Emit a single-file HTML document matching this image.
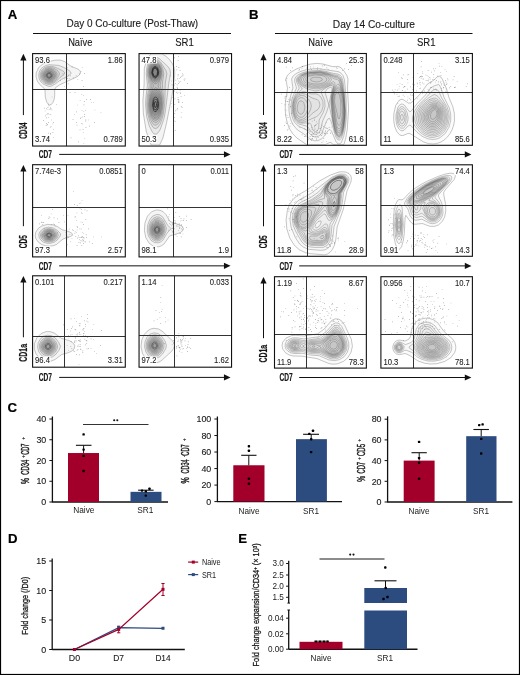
<!DOCTYPE html>
<html><head><meta charset="utf-8"><style>
html,body{margin:0;padding:0;background:#fff;width:520px;height:675px;overflow:hidden;}
svg{display:block;will-change:transform;font-family:"Liberation Sans", sans-serif;}
</style></head><body>
<svg width="520" height="675" viewBox="0 0 520 675" font-family="'Liberation Sans', sans-serif">
<rect x="0" y="0" width="520" height="675" fill="#fff"/>
<text x="7.7" y="18.7" font-size="13.2" font-weight="bold" fill="#000" stroke="#000" stroke-width="0.2">A</text>
<text x="248.9" y="18.9" font-size="13.2" font-weight="bold" fill="#000" stroke="#000" stroke-width="0.2">B</text>
<text x="132.3" y="27.4" font-size="10" text-anchor="middle" textLength="131.7" lengthAdjust="spacingAndGlyphs" fill="#1a1a1a" stroke="#1a1a1a" stroke-width="0.12">Day 0 Co-culture (Post-Thaw)</text>
<line x1="33" y1="33.5" x2="231" y2="33.5" stroke="#111" stroke-width="1.0"/>
<text x="80.3" y="45.7" font-size="10" text-anchor="middle" textLength="24.3" lengthAdjust="spacingAndGlyphs" fill="#1a1a1a" stroke="#1a1a1a" stroke-width="0.12">Na&#239;ve</text>
<text x="184.5" y="45.9" font-size="10" text-anchor="middle" textLength="18.5" lengthAdjust="spacingAndGlyphs" fill="#1a1a1a" stroke="#1a1a1a" stroke-width="0.12">SR1</text>
<text x="373.9" y="28.0" font-size="10" text-anchor="middle" textLength="82.2" lengthAdjust="spacingAndGlyphs" fill="#1a1a1a" stroke="#1a1a1a" stroke-width="0.12">Day 14 Co-culture</text>
<line x1="275" y1="33.5" x2="472.5" y2="33.5" stroke="#111" stroke-width="1.0"/>
<text x="320.5" y="45.7" font-size="10" text-anchor="middle" textLength="24.3" lengthAdjust="spacingAndGlyphs" fill="#1a1a1a" stroke="#1a1a1a" stroke-width="0.12">Na&#239;ve</text>
<text x="426.2" y="45.9" font-size="10" text-anchor="middle" textLength="18.5" lengthAdjust="spacingAndGlyphs" fill="#1a1a1a" stroke="#1a1a1a" stroke-width="0.12">SR1</text>
<clipPath id="c1"><rect x="33.2" y="54.2" width="91.49999999999999" height="91.25000000000001"/></clipPath><g clip-path="url(#c1)"><g fill="#000" fill-opacity="0.04" stroke="#555" stroke-width="0.4" stroke-opacity="0.85"><path d="M51.1 104.7l-1.5 0.3l-1 -0.4l-1.9 -2.5l-1.4 -5l-0.4 -8l-5.3 -4.7l-2.3 -3.3l-1.3 -4.5l0.3 -4l2.3 -5l4.5 -3.8l3.5 -1.5l8 -2.1l6 -0.1l4 1.5l6.2 4.5l7.8 3.3l1.7 1.7l0.2 2l-1.3 2l-2.6 1.9l-16.5 7.6l-4.5 3l-0.9 2l-0 6l-0.6 4l-1.2 3l-1.8 2.1z"/><path d="M51.1 86.2l-2.5 0.2l-4.5 -1.9l-3 -2.4l-1.8 -3l-0.6 -3.5l0.5 -3.5l1.6 -3l2.3 -2.2l3 -1.5l3 -0.7l9.5 0.7l5 1.9l5.6 3.3l1.6 1.5l0.1 1.5l-1.8 2l-8 3.9l-5.5 4.2l-4.5 2.5z"/><path d="M51.6 84.2l-3.5 0.3l-3.5 -1.3l-2.9 -2.6l-1.4 -3l-0.2 -3.5l1.4 -3.5l2.6 -2.7l3.5 -1.5l4 -0.1l4 1.1l6.8 3.2l1.9 1.5l0.4 1l-0.7 1.5l-3.9 2.8l-4.5 4.5l-4 2.3z"/><path d="M51.1 83.2l-3 0.2l-3 -1.1l-2.5 -2.2l-1.4 -3l-0 -3l1.1 -3l2.3 -2.3l3 -1.3l3 -0.2l3.5 1l3.5 2.3l1.8 2.5l-0.4 2.5l-2.6 4l-2.3 2.1l-3 1.5z"/><path d="M51.1 82.2l-3 0.2l-2.5 -0.9l-2.2 -1.9l-1.2 -2.5l-0.1 -3l1.1 -2.5l1.9 -2l2.5 -1.1l3 -0.1l3 1l2.2 1.7l1.4 2.5l-0.2 2.5l-1.2 2.5l-2.2 2.3l-2.5 1.3z"/><path d="M49.6 81.6l-2.5 -0.3l-2.1 -1.2l-1.6 -2l-0.6 -2.5l0.5 -2.5l1.3 -2l2 -1.4l2.5 -0.6l2.5 0.4l2.1 1.1l1.8 2l0.6 2l-0.6 2.5l-1.4 2.2l-2 1.6l-2.5 0.7z"/><path d="M50.6 80.7l-2 0.2l-2 -0.6l-1.6 -1.2l-1.2 -2l-0.2 -2.5l0.8 -2l1.3 -1.5l1.9 -1l2.5 -0.2l2 0.7l1.9 1.5l0.9 1.5l0.2 2l-0.7 2l-1.7 2l-2.1 1.1z"/><path d="M49.6 80.2l-2 -0.2l-1.6 -0.9l-1.2 -1.5l-0.5 -2l0.3 -2l1 -1.5l1.5 -1l2 -0.5l3.5 1.2l1.1 1.3l0.6 2l-0.5 2l-1 1.5l-3.2 1.6z"/><path d="M50.6 79.3l-3 0l-2.3 -2.2l-0.2 -3l1 -1.5l1.5 -1l3.5 0.1l1.4 0.9l0.8 1.5l-0.3 3l-2.4 2.2z"/><path d="M50.1 78.7l-2.5 -0.2l-1.7 -1.9l0 -2.5l2.2 -1.9l3 0.3l1.5 1.9l-0.4 2.7l-2.1 1.6z"/><path d="M49.1 78.1l-2 -0.8l-0.8 -1.7l0.7 -2l2.1 -1l2 0.7l0.9 1.8l-0.7 2l-2.2 1z" stroke="#333" stroke-width="0.6"/><path d="M49.6 77.2l-1.3 -0.1l-1 -1l0.1 -1.5l1.2 -1l1.5 0.1l1 1.4l-0.5 1.5l-1 0.6z" stroke="#333" stroke-width="0.6"/></g><path fill="#888" d="M94.2 122.1h.65v.65h-.65zM72.7 119.0h.65v.65h-.65zM88.4 119.7h.65v.65h-.65zM81.7 80.0h.65v.65h-.65zM81.5 93.9h.65v.65h-.65zM79.7 129.6h.65v.65h-.65zM100.6 112.4h.65v.65h-.65zM82.1 116.7h.65v.65h-.65zM85.6 127.3h.65v.65h-.65zM84.5 137.9h.65v.65h-.65zM82.4 123.7h.65v.65h-.65zM80.7 117.4h.65v.65h-.65zM81.6 110.4h.65v.65h-.65zM82.7 129.1h.65v.65h-.65zM70.7 137.6h.65v.65h-.65zM74.7 92.0h.65v.65h-.65zM83.0 86.1h.65v.65h-.65zM83.6 143.4h.65v.65h-.65zM93.0 102.2h.65v.65h-.65zM83.6 104.5h.65v.65h-.65zM78.4 141.6h.65v.65h-.65zM79.8 99.9h.65v.65h-.65zM84.1 114.3h.65v.65h-.65zM76.9 104.7h.65v.65h-.65zM91.4 101.9h.65v.65h-.65zM85.5 119.5h.65v.65h-.65zM86.3 99.0h.65v.65h-.65zM90.0 99.3h.65v.65h-.65zM85.5 120.8h.65v.65h-.65zM89.3 125.8h.65v.65h-.65zM84.1 101.3h.65v.65h-.65zM80.2 118.1h.65v.65h-.65zM74.3 113.9h.65v.65h-.65zM83.0 94.9h.65v.65h-.65zM76.7 124.8h.65v.65h-.65zM83.5 110.9h.65v.65h-.65zM82.9 132.4h.65v.65h-.65zM85.0 109.9h.65v.65h-.65zM84.1 116.3h.65v.65h-.65zM94.6 109.7h.65v.65h-.65zM76.2 111.5h.65v.65h-.65zM76.4 122.1h.65v.65h-.65zM81.5 123.0h.65v.65h-.65zM49.8 108.8h.65v.65h-.65zM45.1 115.6h.65v.65h-.65zM53.0 122.3h.65v.65h-.65zM51.3 119.7h.65v.65h-.65zM46.9 137.8h.65v.65h-.65zM44.8 110.7h.65v.65h-.65zM46.4 113.9h.65v.65h-.65zM48.6 105.6h.65v.65h-.65zM44.1 107.8h.65v.65h-.65zM50.2 107.5h.65v.65h-.65zM47.3 113.6h.65v.65h-.65zM50.2 134.2h.65v.65h-.65zM50.3 133.0h.65v.65h-.65zM52.5 123.7h.65v.65h-.65zM48.7 114.4h.65v.65h-.65zM43.0 120.0h.65v.65h-.65zM51.7 96.7h.65v.65h-.65zM56.2 103.9h.65v.65h-.65zM47.9 132.8h.65v.65h-.65zM50.7 126.1h.65v.65h-.65zM47.6 107.1h.65v.65h-.65zM46.1 123.0h.65v.65h-.65zM46.1 107.9h.65v.65h-.65zM52.6 132.3h.65v.65h-.65zM47.9 103.8h.65v.65h-.65zM47.2 124.3h.65v.65h-.65zM46.7 109.4h.65v.65h-.65zM51.7 109.7h.65v.65h-.65zM48.3 122.1h.65v.65h-.65zM46.8 124.5h.65v.65h-.65zM48.1 112.9h.65v.65h-.65zM46.1 117.6h.65v.65h-.65zM48.0 117.2h.65v.65h-.65zM49.9 127.4h.65v.65h-.65zM45.8 125.0h.65v.65h-.65zM50.8 108.6h.65v.65h-.65zM48.7 108.9h.65v.65h-.65zM53.0 129.2h.65v.65h-.65zM53.1 136.9h.65v.65h-.65zM50.5 114.3h.65v.65h-.65zM66.9 67.5h.65v.65h-.65zM60.1 80.3h.65v.65h-.65zM80.7 71.2h.65v.65h-.65zM62.7 73.5h.65v.65h-.65zM67.8 83.5h.65v.65h-.65zM79.4 73.5h.65v.65h-.65zM81.9 67.2h.65v.65h-.65zM72.9 77.6h.65v.65h-.65zM64.0 86.4h.65v.65h-.65zM75.8 75.6h.65v.65h-.65zM67.4 78.0h.65v.65h-.65zM77.5 79.2h.65v.65h-.65zM64.4 78.7h.65v.65h-.65zM69.7 92.0h.65v.65h-.65zM68.9 78.2h.65v.65h-.65zM84.2 73.3h.65v.65h-.65zM71.8 66.8h.65v.65h-.65zM68.3 74.8h.65v.65h-.65zM64.8 77.7h.65v.65h-.65zM70.0 75.6h.65v.65h-.65z"/></g>
<line x1="66.5" y1="53.6" x2="66.5" y2="146.05" stroke="#333" stroke-width="1.0"/>
<line x1="32.6" y1="89.5" x2="125.3" y2="89.5" stroke="#333" stroke-width="1.0"/>
<rect x="32.6" y="53.6" width="92.69999999999999" height="92.45000000000002" fill="none" stroke="#111" stroke-width="1.1"/>
<rect x="34.3" y="55.9" width="16.3" height="7.6" fill="#fff"/>
<text x="35.1" y="62.5" font-size="8.4" textLength="14.89" lengthAdjust="spacingAndGlyphs" fill="#1a1a1a" stroke="#1a1a1a" stroke-width="0.08">93.6</text>
<rect x="107.0" y="55.9" width="16.3" height="7.6" fill="#fff"/>
<text x="122.7" y="62.5" font-size="8.4" text-anchor="end" textLength="14.89" lengthAdjust="spacingAndGlyphs" fill="#1a1a1a" stroke="#1a1a1a" stroke-width="0.08">1.86</text>
<rect x="34.3" y="135.4" width="16.3" height="7.6" fill="#fff"/>
<text x="35.1" y="141.95000000000002" font-size="8.4" textLength="14.89" lengthAdjust="spacingAndGlyphs" fill="#1a1a1a" stroke="#1a1a1a" stroke-width="0.08">3.74</text>
<rect x="102.8" y="135.4" width="20.5" height="7.6" fill="#fff"/>
<text x="122.7" y="141.95000000000002" font-size="8.4" text-anchor="end" textLength="19.14" lengthAdjust="spacingAndGlyphs" fill="#1a1a1a" stroke="#1a1a1a" stroke-width="0.08">0.789</text>
<clipPath id="c2"><rect x="139.65" y="54.2" width="91.3" height="91.25000000000001"/></clipPath><g clip-path="url(#c2)"><g fill="#000" fill-opacity="0.045" stroke="#555" stroke-width="0.4" stroke-opacity="0.85"><path d="M159.6 145.1l-8.3 -0l-1.2 -2l-3.9 -12l-2.9 -18l-0.4 -12l1.2 -17l0.2 -16l2.6 -8.5l2.2 -3.6l2.5 -2.4l9.8 -0l4.7 2.8l3.5 3.3l2.8 3.9l1.6 3.5l0.7 4l-0 4l-2.5 19.5l-5.9 29.5l-3.4 14l-3.3 7z"/><path d="M156.1 134.2l-2 -0.3l-1.5 -1.4l-3.3 -6.4l-2.6 -9.5l-1.1 -11.5l0.3 -7.5l1.5 -12.5l-1.1 -11.5l0.5 -6l1.2 -4l2.1 -3.5l2.5 -2.2l2.5 -0.7l2 0.3l2.5 1.3l8.5 7.9l1.8 2.9l0.6 3.5l-1.7 10l-3.3 27.5l-1.5 8l-3.9 11.2l-2 3l-2 1.4z"/><path d="M155.6 128.6l-1.5 -0.4l-1.5 -1.3l-3 -5.8l-2.1 -8l-0.7 -8.5l0.4 -7.5l1.9 -11.5l-1.7 -11l0.3 -6.5l1.1 -3.5l1.8 -3l2 -1.8l2.5 -0.7l3 0.8l2.5 2.3l5.4 8.4l0.9 3l-1.6 9.5l-0.5 20l-1.3 11l-1.7 6l-1.9 4.5l-2.3 3.1l-2 0.9z"/><path d="M155.6 125.2l-1.5 -0.4l-1.5 -1.3l-2.4 -4.4l-1.9 -7l-0.6 -7.5l0.6 -8l2.2 -11l-2.2 -10l0 -6.5l1 -3.5l1.3 -2.5l2 -1.9l2.5 -0.8l3 1l2.6 2.7l2.1 4.5l1 5l-1.5 10.5l1.4 15l-0.7 12l-1.3 5.5l-1.8 4.5l-2.3 3.2l-2 0.9z"/><path d="M155.6 122.6l-2.5 -1.2l-2.5 -4.3l-1.6 -6l-0.5 -6.5l0.7 -8l2.7 -11l-2.9 -10l-0.1 -6l0.9 -3.5l1.3 -2.3l2 -1.8l2 -0.6l2.5 0.8l2 1.9l1.6 3l1 3.5l0.1 5l-2.2 9.5l2.1 9.5l0.6 7.5l-0.5 7.5l-1.5 6.5l-2.2 4.5l-1.5 1.5l-1.5 0.5z"/><path d="M155.6 120.7l-2.5 -1.3l-2 -3.4l-1.5 -5.4l-0.5 -6l0.9 -8.5l3.5 -10.5l-3.6 -8.5l-0.7 -3.5l0.1 -3.5l0.7 -3l1.3 -2.5l1.8 -1.7l2 -0.6l2 0.5l2 1.8l2.3 5.5l-0.1 6l-3.2 9.5l3.1 9l0.9 8l-0.4 6.5l-1.4 6l-2.2 4.1l-2.5 1.5z"/><path d="M156.6 83.7l-1.5 0.3l-2.5 -2.4l-2 -3.7l-1 -4.3l0.2 -4l1.1 -3.5l1.7 -2.1l2.5 -1l2 0.5l2 2l1.3 2.6l0.7 3.5l-0.2 3.5l-0.8 3l-1.5 3.2l-2 2.4zM156.1 119.2l-2.5 -0.8l-1.9 -2.8l-1.4 -4.5l-0.7 -6l0.4 -5.5l1.2 -5.5l2.4 -4.8l2 -1.8l2 1.2l2.2 3.9l1.2 4.5l0.6 5.5l-0.4 6l-1.1 5l-1.9 4l-2.1 1.6z"/><path d="M155.6 82.2l-2 -0.8l-1.8 -2.3l-1.3 -3l-0.5 -3.5l0.3 -3.5l1.2 -3l1.6 -1.7l2 -0.7l2 0.6l1.8 1.8l1.1 2.5l0.6 3.5l-0.3 3.5l-1.1 3l-1.6 2.5l-2 1.1zM156.1 117.8l-2 -0.4l-2 -2.7l-1.3 -4.1l-0.6 -5.5l0.2 -5l1.2 -5l2 -3.7l2 -1.3l2 0.9l1.8 3.1l1.1 4l0.5 5l-0.3 5l-0.9 4.5l-1.7 3.6l-2 1.6z"/><path d="M156.1 80.7l-2 -0.2l-1.5 -1.4l-1.4 -2.5l-0.7 -3.5l0.2 -3.5l0.9 -2.7l1.5 -1.8l2 -0.8l2 0.7l1.4 1.6l1.5 5l-0.9 5.6l-1.5 2.4l-1.5 1.1zM156.1 116.2l-2 -0.4l-1.6 -2.2l-1.3 -4l-0.5 -4.5l0.4 -5l1 -4.1l1.5 -2.8l2 -1.3l1.6 0.7l1.7 2.5l1 3.5l0.5 4.5l-1 8.5l-1.4 3l-1.9 1.6z"/><path d="M156.1 79.7l-2 -0.2l-1.5 -1.4l-1.7 -5l0.1 -3l0.8 -2.5l1.3 -1.7l2 -0.9l1.5 0.5l1.5 1.5l1.4 4.6l-0.7 5l-1.2 2l-1.5 1.1zM156.1 114.8l-1.5 -0.1l-1.7 -2.1l-1.2 -3.5l-0.4 -4l0.3 -4.5l0.9 -3.5l1.6 -2.7l1.5 -0.8l1.5 0.7l1.5 2.3l1.2 7l-1 7.5l-1.2 2.4l-1.5 1.3z"/><path d="M156.1 78.7l-1.5 0.1l-1.5 -1.1l-1.2 -2.1l-0.6 -2.5l0.8 -5l1.5 -1.9l1.5 -0.5l1.5 0.5l1.3 1.4l1.2 4l-0.7 4.5l-2.3 2.6zM156.1 113.3l-1.5 -0.2l-1.5 -1.9l-1.2 -6.1l1.1 -7l1.1 -2l1.5 -0.8l1.5 0.8l1 1.6l1.1 5.9l-0.7 6l-0.9 2.2l-1.5 1.5z"/><path d="M156.1 77.8l-1.5 0.1l-1.2 -0.8l-1.6 -4l0.7 -4.5l1.1 -1.5l1.5 -0.6l1.5 0.5l0.9 1.1l1.1 3.5l-0.5 3.6l-2 2.6zM156.1 111.7l-1.5 -0.2l-1 -1.3l-1.1 -5.1l0.8 -5.5l1.1 -2l1.2 -0.6l1 0.5l1 1.4l1 4.7l-0.6 5l-1.9 3.1z" stroke="#222" stroke-width="0.9"/><path d="M155.1 77.1l-2 -1.5l-0.9 -3.5l0.9 -3.5l2 -1.4l2.1 1.4l0.9 3.5l-0.8 3.5l-1.2 1.2l-1 0.3zM156.1 109.8l-1 0.1l-1 -1.1l-0.8 -3.7l0.6 -4.5l1.7 -1.7l1.5 1.5l0.7 3.2l-0.3 3.5l-1.4 2.7z" stroke="#222" stroke-width="0.9"/><path d="M155.6 76.2l-1 -0l-1 -0.9l-0.9 -2.7l0.5 -3l1.9 -1.5l1.7 1l0.8 2.5l-0.5 3l-1.5 1.6zM156.1 107.2l-1 0.2l-0.8 -2.3l0.3 -2.7l1 -1l1.1 2.2l-0.6 3.6z" stroke="#222" stroke-width="0.9"/></g><path fill="#888" d="M177.3 78.6h.65v.65h-.65zM181.5 76.0h.65v.65h-.65zM177.8 74.1h.65v.65h-.65zM174.5 87.9h.65v.65h-.65zM176.0 66.0h.65v.65h-.65zM178.5 102.4h.65v.65h-.65zM175.1 110.5h.65v.65h-.65zM176.1 92.2h.65v.65h-.65zM178.8 101.7h.65v.65h-.65zM173.3 88.0h.65v.65h-.65zM174.9 130.1h.65v.65h-.65zM182.3 89.0h.65v.65h-.65zM182.0 102.0h.65v.65h-.65zM177.8 60.3h.65v.65h-.65zM180.1 93.3h.65v.65h-.65zM174.4 90.8h.65v.65h-.65zM175.5 79.8h.65v.65h-.65zM179.0 81.8h.65v.65h-.65zM176.8 84.5h.65v.65h-.65zM177.3 93.4h.65v.65h-.65zM180.9 106.0h.65v.65h-.65zM174.6 98.5h.65v.65h-.65zM177.2 88.3h.65v.65h-.65zM171.7 84.6h.65v.65h-.65zM181.8 107.1h.65v.65h-.65zM179.6 89.5h.65v.65h-.65zM180.8 116.8h.65v.65h-.65zM174.9 83.1h.65v.65h-.65zM176.5 69.6h.65v.65h-.65zM178.3 101.3h.65v.65h-.65zM183.7 79.2h.65v.65h-.65zM172.1 84.7h.65v.65h-.65zM180.1 81.4h.65v.65h-.65zM176.6 91.7h.65v.65h-.65zM180.7 96.1h.65v.65h-.65zM177.4 99.4h.65v.65h-.65zM170.9 106.7h.65v.65h-.65zM181.5 111.9h.65v.65h-.65zM176.7 109.5h.65v.65h-.65zM178.3 56.0h.65v.65h-.65zM177.0 88.4h.65v.65h-.65zM173.9 84.8h.65v.65h-.65zM183.3 74.7h.65v.65h-.65zM178.5 99.8h.65v.65h-.65zM178.1 67.2h.65v.65h-.65zM178.1 99.3h.65v.65h-.65zM177.7 75.5h.65v.65h-.65zM174.6 88.9h.65v.65h-.65zM173.9 117.1h.65v.65h-.65zM180.0 77.0h.65v.65h-.65zM174.5 113.0h.65v.65h-.65zM175.1 121.4h.65v.65h-.65zM184.3 80.2h.65v.65h-.65zM177.2 108.0h.65v.65h-.65zM178.0 83.1h.65v.65h-.65zM171.5 102.9h.65v.65h-.65zM184.7 78.6h.65v.65h-.65zM178.1 80.7h.65v.65h-.65zM178.7 66.9h.65v.65h-.65zM184.1 95.4h.65v.65h-.65zM174.5 104.3h.65v.65h-.65zM176.8 87.3h.65v.65h-.65zM178.6 92.2h.65v.65h-.65zM179.7 70.0h.65v.65h-.65zM174.0 120.7h.65v.65h-.65zM172.3 96.9h.65v.65h-.65zM187.1 83.0h.65v.65h-.65zM178.2 102.2h.65v.65h-.65zM182.3 73.5h.65v.65h-.65zM180.2 89.6h.65v.65h-.65zM178.8 78.3h.65v.65h-.65zM169.9 75.5h.65v.65h-.65zM181.9 75.5h.65v.65h-.65zM177.7 97.0h.65v.65h-.65zM174.1 57.6h.65v.65h-.65zM171.4 80.7h.65v.65h-.65zM180.3 91.9h.65v.65h-.65z"/></g>
<line x1="173.5" y1="53.6" x2="173.5" y2="146.05" stroke="#333" stroke-width="1.0"/>
<line x1="139.05" y1="89.5" x2="231.55" y2="89.5" stroke="#333" stroke-width="1.0"/>
<rect x="139.05" y="53.6" width="92.5" height="92.45000000000002" fill="none" stroke="#111" stroke-width="1.1"/>
<rect x="140.8" y="55.9" width="16.3" height="7.6" fill="#fff"/>
<text x="141.55" y="62.5" font-size="8.4" textLength="14.89" lengthAdjust="spacingAndGlyphs" fill="#1a1a1a" stroke="#1a1a1a" stroke-width="0.08">47.8</text>
<rect x="209.0" y="55.9" width="20.5" height="7.6" fill="#fff"/>
<text x="228.95000000000002" y="62.5" font-size="8.4" text-anchor="end" textLength="19.14" lengthAdjust="spacingAndGlyphs" fill="#1a1a1a" stroke="#1a1a1a" stroke-width="0.08">0.979</text>
<rect x="140.8" y="135.4" width="16.3" height="7.6" fill="#fff"/>
<text x="141.55" y="141.95000000000002" font-size="8.4" textLength="14.89" lengthAdjust="spacingAndGlyphs" fill="#1a1a1a" stroke="#1a1a1a" stroke-width="0.08">50.3</text>
<rect x="209.0" y="135.4" width="20.5" height="7.6" fill="#fff"/>
<text x="228.95000000000002" y="141.95000000000002" font-size="8.4" text-anchor="end" textLength="19.14" lengthAdjust="spacingAndGlyphs" fill="#1a1a1a" stroke="#1a1a1a" stroke-width="0.08">0.935</text>
<line x1="23.4" y1="58.800000000000004" x2="23.4" y2="115.1" stroke="#111" stroke-width="1.0"/>
<path d="M20.30,60.40 L23.40,53.80 L26.50,60.40 Z" fill="#111"/>
<text transform="translate(27.0,130.6) rotate(-90)" text-anchor="middle" font-size="11" font-weight="bold" textLength="16.4" lengthAdjust="spacingAndGlyphs" fill="#151515" stroke="#151515" stroke-width="0.2">CD34</text>
<text x="38.7" y="158.20000000000002" font-size="11" font-weight="bold" textLength="13.2" lengthAdjust="spacingAndGlyphs" fill="#151515" stroke="#151515" stroke-width="0.2">CD7</text>
<line x1="59.2" y1="154.4" x2="225.55" y2="154.4" stroke="#111" stroke-width="1.0"/>
<path d="M223.95,151.30 L230.55,154.40 L223.95,157.50 Z" fill="#111"/>
<clipPath id="c3"><rect x="33.2" y="165.29999999999998" width="91.49999999999999" height="90.99999999999999"/></clipPath><g clip-path="url(#c3)"><g fill="#000" fill-opacity="0.04" stroke="#555" stroke-width="0.4" stroke-opacity="0.85"><path d="M49.6 246.2l-4 -0.3l-4 -1.4l-3.5 -2.6l-2.2 -3.2l-0.7 -3l0.6 -3.5l2.2 -3.5l3.1 -2.4l6 -1.9l6 0.4l4 1.6l5 3.3l7.5 2.2l2.7 1.8l-0.1 1.5l-1.1 1l-8 2.8l-6.5 5.4l-3 1.2l-4 0.6z"/><path d="M50.6 243.3l-3.5 -0l-3.5 -1.1l-2.7 -2l-1.6 -2.5l-0.5 -3l0.8 -2.5l2 -2.4l3 -1.8l4 -0.8l4.5 0.7l4 2.3l3.4 3.5l-0.1 2l-3.3 4.5l-3 2.1l-3.5 1z"/><path d="M51.6 241.8l-3 0.3l-3 -0.5l-2.5 -1.4l-1.5 -1.5l-1 -2l-0.1 -2.5l0.8 -2l1.8 -1.8l3.5 -1.6l4 -0.2l4 1.4l2.9 2.7l0.8 2.5l-1 2.5l-2.3 2.5l-3.4 1.6z"/><path d="M49.1 241.2l-2.5 -0.3l-2.6 -1.2l-1.8 -2l-0.7 -2l0.5 -2.5l1.6 -2l2 -1.2l3 -0.7l3 0.4l2.5 1.1l2 1.9l0.8 2l-0.6 2.5l-1.7 2l-2.5 1.5l-3 0.5z"/><path d="M51.1 240.2l-4.5 -0.1l-2 -1l-1.4 -1.4l-0.7 -1.5l0.1 -2l2 -2.8l2.5 -1.2l3 -0.1l3 1l1.9 1.6l0.9 2l-0.6 2.5l-1.7 1.8l-2.5 1.2z"/><path d="M50.6 239.7l-3.5 -0.1l-3 -1.9l-0.9 -3l1.9 -2.9l2.5 -1l2.5 -0.1l2.5 0.8l1.9 1.7l0.6 2l-0.7 2l-1.5 1.5l-2.3 1z"/><path d="M50.1 239.2l-3.5 -0.4l-2.3 -2.1l-0.2 -2.5l2 -2.2l2 -0.7l2.5 0.1l2 0.9l1.3 1.4l0.4 1.5l-0.7 2l-1.5 1.3l-2 0.7z"/><path d="M49.6 238.7l-3 -0.5l-1.8 -2l0.3 -2.5l2 -1.6l3.5 -0.1l1.5 0.7l1.3 1.5l0.1 1.5l-0.8 1.5l-3.1 1.5z"/><path d="M50.6 237.9l-2.5 0.2l-1.7 -0.9l-1 -2l0.7 -1.6l3 -1.2l3 1.3l0.6 1l-0.1 1.4l-2 1.8z"/><path d="M50.1 237.3l-2 0l-1.5 -1l-0.4 -1.1l0.8 -1.5l2.6 -0.6l2 1.1l0 2l-1.5 1.1z" stroke="#333" stroke-width="0.6"/><path d="M49.6 236.7l-2.1 -0.5l-0.4 -1l0.5 -1l1.5 -0.5l1.5 0.6l0.3 1.4l-1.3 1z" stroke="#333" stroke-width="0.6"/></g><path fill="#888" d="M73.0 230.4h.65v.65h-.65zM69.5 234.4h.65v.65h-.65zM78.8 237.0h.65v.65h-.65zM83.4 233.4h.65v.65h-.65zM70.2 240.9h.65v.65h-.65zM79.6 228.6h.65v.65h-.65zM76.7 245.1h.65v.65h-.65zM77.1 237.8h.65v.65h-.65zM84.7 241.6h.65v.65h-.65zM76.8 229.7h.65v.65h-.65zM89.1 241.6h.65v.65h-.65zM67.6 235.9h.65v.65h-.65zM83.0 237.3h.65v.65h-.65zM74.8 231.6h.65v.65h-.65zM71.6 238.2h.65v.65h-.65zM72.5 235.4h.65v.65h-.65zM81.6 240.5h.65v.65h-.65zM76.2 232.2h.65v.65h-.65zM81.3 236.8h.65v.65h-.65zM65.6 234.5h.65v.65h-.65zM66.9 244.6h.65v.65h-.65zM85.9 234.6h.65v.65h-.65zM77.2 227.0h.65v.65h-.65zM75.5 236.0h.65v.65h-.65zM91.9 243.3h.65v.65h-.65zM80.6 237.3h.65v.65h-.65zM79.9 240.2h.65v.65h-.65zM65.6 237.2h.65v.65h-.65zM81.1 236.9h.65v.65h-.65zM83.0 224.1h.65v.65h-.65zM80.3 242.6h.65v.65h-.65zM86.4 237.1h.65v.65h-.65zM81.9 232.4h.65v.65h-.65zM65.2 232.4h.65v.65h-.65zM85.0 241.6h.65v.65h-.65zM93.4 236.7h.65v.65h-.65zM82.1 239.2h.65v.65h-.65zM83.0 240.0h.65v.65h-.65zM82.0 236.0h.65v.65h-.65zM82.7 240.9h.65v.65h-.65zM78.6 242.3h.65v.65h-.65zM72.1 229.5h.65v.65h-.65zM83.9 237.7h.65v.65h-.65zM66.2 241.7h.65v.65h-.65zM81.5 245.0h.65v.65h-.65zM68.8 228.8h.65v.65h-.65zM81.0 228.7h.65v.65h-.65zM82.4 237.4h.65v.65h-.65zM83.1 243.0h.65v.65h-.65zM79.3 238.9h.65v.65h-.65zM66.7 235.8h.65v.65h-.65zM67.9 237.0h.65v.65h-.65zM78.3 235.5h.65v.65h-.65zM66.7 238.5h.65v.65h-.65zM74.5 232.9h.65v.65h-.65zM65.8 224.4h.65v.65h-.65zM76.8 226.1h.65v.65h-.65zM83.5 238.7h.65v.65h-.65zM88.1 228.6h.65v.65h-.65zM101.4 236.7h.65v.65h-.65zM76.6 212.7h.65v.65h-.65zM79.7 208.2h.65v.65h-.65zM75.2 216.5h.65v.65h-.65zM82.0 222.4h.65v.65h-.65zM74.5 216.7h.65v.65h-.65zM79.1 206.9h.65v.65h-.65zM78.9 202.9h.65v.65h-.65zM80.5 202.7h.65v.65h-.65zM81.7 213.0h.65v.65h-.65zM80.7 221.7h.65v.65h-.65zM74.0 204.0h.65v.65h-.65zM76.9 205.3h.65v.65h-.65zM81.7 200.4h.65v.65h-.65zM84.6 209.6h.65v.65h-.65zM81.4 212.4h.65v.65h-.65zM76.1 220.2h.65v.65h-.65zM73.0 190.9h.65v.65h-.65zM86.7 210.6h.65v.65h-.65zM85.5 219.0h.65v.65h-.65zM81.3 209.1h.65v.65h-.65zM44.4 228.3h.65v.65h-.65zM48.8 216.5h.65v.65h-.65zM41.3 215.4h.65v.65h-.65zM53.3 223.7h.65v.65h-.65zM48.5 218.1h.65v.65h-.65zM58.6 222.3h.65v.65h-.65zM54.8 226.4h.65v.65h-.65zM43.0 221.9h.65v.65h-.65zM50.8 213.7h.65v.65h-.65zM64.4 221.6h.65v.65h-.65zM39.1 223.5h.65v.65h-.65zM42.5 224.3h.65v.65h-.65zM49.6 217.4h.65v.65h-.65zM67.6 214.9h.65v.65h-.65zM40.9 221.8h.65v.65h-.65zM42.3 222.4h.65v.65h-.65zM54.1 224.0h.65v.65h-.65zM63.2 215.2h.65v.65h-.65zM57.4 218.5h.65v.65h-.65zM43.5 221.9h.65v.65h-.65zM51.0 224.6h.65v.65h-.65zM41.0 222.0h.65v.65h-.65zM52.4 209.3h.65v.65h-.65zM53.7 217.5h.65v.65h-.65zM56.9 232.1h.65v.65h-.65z"/></g>
<line x1="66.5" y1="164.7" x2="66.5" y2="256.9" stroke="#333" stroke-width="1.0"/>
<line x1="32.6" y1="207.5" x2="125.3" y2="207.5" stroke="#333" stroke-width="1.0"/>
<rect x="32.6" y="164.7" width="92.69999999999999" height="92.19999999999999" fill="none" stroke="#111" stroke-width="1.1"/>
<rect x="34.3" y="167.0" width="27.3" height="7.6" fill="#fff"/>
<text x="35.1" y="173.6" font-size="8.4" textLength="25.94" lengthAdjust="spacingAndGlyphs" fill="#1a1a1a" stroke="#1a1a1a" stroke-width="0.08">7.74e-3</text>
<rect x="98.5" y="167.0" width="24.8" height="7.6" fill="#fff"/>
<text x="122.7" y="173.6" font-size="8.4" text-anchor="end" textLength="23.4" lengthAdjust="spacingAndGlyphs" fill="#1a1a1a" stroke="#1a1a1a" stroke-width="0.08">0.0851</text>
<rect x="34.3" y="246.2" width="16.3" height="7.6" fill="#fff"/>
<text x="35.1" y="252.79999999999998" font-size="8.4" textLength="14.89" lengthAdjust="spacingAndGlyphs" fill="#1a1a1a" stroke="#1a1a1a" stroke-width="0.08">97.3</text>
<rect x="107.0" y="246.2" width="16.3" height="7.6" fill="#fff"/>
<text x="122.7" y="252.79999999999998" font-size="8.4" text-anchor="end" textLength="14.89" lengthAdjust="spacingAndGlyphs" fill="#1a1a1a" stroke="#1a1a1a" stroke-width="0.08">2.57</text>
<clipPath id="c4"><rect x="139.65" y="165.29999999999998" width="91.3" height="90.99999999999999"/></clipPath><g clip-path="url(#c4)"><g fill="#000" fill-opacity="0.04" stroke="#555" stroke-width="0.4" stroke-opacity="0.85"><path d="M158.6 246.8l-5 -0.4l-4.5 -3.2l-3.3 -5.5l-1.4 -7l0.5 -7.5l2.5 -7l4.2 -4.5l5 -1.8l3.5 0.4l3 1.4l3 3l4 6.9l10 3.4l2.4 1.7l0.9 2l-0.7 2l-2.6 2.1l-10.5 3.2l-5.5 7.9l-3 2.1l-2.5 0.8z"/><path d="M158.6 242.8l-4 -0.2l-3.5 -2.2l-2.6 -4.2l-1.2 -5l0.4 -6l2 -5.5l2.9 -3.6l4 -1.7l3 0.4l3 2l5 8.3l3.5 3.6l-4 4.4l-4 6.8l-2 1.8l-2.5 1.1z"/><path d="M159.1 240.8l-3.5 0.3l-3 -1.5l-2.5 -3.4l-1.3 -4.5l0.1 -5l1.6 -5l2.6 -3.3l3.5 -1.6l3 0.5l2.5 1.9l2.2 3.5l2.1 5.5l-0.4 3l-2.5 5.5l-1.9 2.5l-2.5 1.6z"/><path d="M157.6 239.8l-3 -0.5l-2.5 -2l-1.7 -3.1l-0.7 -4l0.5 -4.5l1.5 -3.5l2.4 -2.7l3 -1l2.5 0.6l2.3 2.1l2.1 4l0.9 3.5l-0.6 3.5l-1.8 4l-2.4 2.6l-2.5 1z"/><path d="M157.1 238.7l-2.5 -0.6l-2.2 -1.9l-1.4 -3l-0.5 -3.5l0.5 -3.5l1.6 -3.5l2 -2.1l2.5 -0.8l2.5 0.8l2 2l1.7 3.6l0.6 3l-0.7 3.5l-1.6 3.2l-2 2l-2.5 0.8z"/><path d="M157.6 237.8l-2.5 -0.3l-2 -1.6l-1.4 -2.7l-0.5 -3l0.4 -3.5l1.3 -3l1.9 -2l2.3 -0.7l2 0.6l2 1.9l1.4 2.7l0.6 3l-0.5 3l-1.4 3l-1.6 1.7l-2 0.9z"/><path d="M157.6 236.8l-2 -0.2l-2 -1.4l-1.1 -2l-0.6 -3l0.3 -3l1 -2.5l1.9 -2l2 -0.6l2 0.6l1.5 1.5l1.3 2.5l0.4 2.5l-0.3 2.5l-1.1 2.5l-1.3 1.6l-2 1z"/><path d="M158.1 235.9l-2 0.1l-1.5 -0.8l-1.5 -2l-0.6 -2.5l0.1 -2.5l0.9 -2.5l1.6 -1.9l1.5 -0.7l1.5 0.2l1.5 0.9l1.3 2l0.7 2.5l-0.8 4.5l-1.2 1.7l-1.5 1z"/><path d="M157.1 235.3l-1.5 -0.3l-1.4 -1.3l-1.1 -4l1.2 -4l1.3 -1.2l1.5 -0.5l1.5 0.5l1.2 1.2l1.2 4l-1.3 4l-2.6 1.6z"/><path d="M157.6 234.3l-2.5 -0.7l-1.4 -3.4l0.9 -3.7l1 -1l1.5 -0.5l2.1 1.2l1.2 3l-0.8 3.4l-2 1.7z"/><path d="M157.6 233.3l-2 -0.4l-1.2 -2.7l0.7 -2.9l2 -1.2l1.5 0.7l1 2.4l-0.4 2.5l-1.6 1.6z" stroke="#333" stroke-width="0.6"/><path d="M157.1 232.3l-1.5 -0.9l-0.4 -1.7l0.4 -1.6l1.5 -0.9l1.4 1l0.3 1.5l-0.6 2l-1.1 0.6z" stroke="#333" stroke-width="0.6"/></g><path fill="#888" d="M182.6 233.7h.65v.65h-.65zM172.7 227.9h.65v.65h-.65zM179.5 232.8h.65v.65h-.65zM177.5 224.5h.65v.65h-.65zM167.1 208.5h.65v.65h-.65zM175.6 234.6h.65v.65h-.65zM181.4 228.6h.65v.65h-.65zM186.0 227.1h.65v.65h-.65zM169.4 223.4h.65v.65h-.65zM175.9 225.5h.65v.65h-.65zM172.2 231.3h.65v.65h-.65zM179.1 228.0h.65v.65h-.65zM171.9 224.1h.65v.65h-.65zM181.1 224.8h.65v.65h-.65zM173.3 223.4h.65v.65h-.65zM174.8 223.3h.65v.65h-.65zM172.9 224.3h.65v.65h-.65zM186.2 220.0h.65v.65h-.65zM183.6 218.5h.65v.65h-.65zM178.9 216.0h.65v.65h-.65zM174.2 216.9h.65v.65h-.65zM174.6 220.3h.65v.65h-.65zM180.2 233.2h.65v.65h-.65zM179.5 225.3h.65v.65h-.65zM182.6 228.9h.65v.65h-.65zM163.4 223.9h.65v.65h-.65zM172.6 222.2h.65v.65h-.65zM173.9 228.4h.65v.65h-.65zM180.7 218.0h.65v.65h-.65zM173.5 231.7h.65v.65h-.65zM186.2 215.8h.65v.65h-.65zM168.5 229.8h.65v.65h-.65zM179.9 220.7h.65v.65h-.65zM171.6 229.9h.65v.65h-.65zM180.9 236.6h.65v.65h-.65zM172.6 232.0h.65v.65h-.65zM170.2 224.4h.65v.65h-.65zM175.5 212.0h.65v.65h-.65zM179.5 227.0h.65v.65h-.65zM176.8 225.9h.65v.65h-.65zM176.7 235.9h.65v.65h-.65zM171.6 225.6h.65v.65h-.65zM183.1 220.3h.65v.65h-.65zM181.6 220.4h.65v.65h-.65zM174.0 223.4h.65v.65h-.65zM169.3 214.2h.65v.65h-.65zM181.3 224.5h.65v.65h-.65zM174.9 221.9h.65v.65h-.65zM182.4 226.7h.65v.65h-.65zM163.7 220.7h.65v.65h-.65zM178.2 230.2h.65v.65h-.65zM172.4 227.8h.65v.65h-.65zM190.8 219.1h.65v.65h-.65zM178.7 226.4h.65v.65h-.65zM171.7 228.3h.65v.65h-.65zM175.1 221.7h.65v.65h-.65zM171.9 223.0h.65v.65h-.65zM168.2 219.8h.65v.65h-.65zM178.9 223.5h.65v.65h-.65zM168.5 216.6h.65v.65h-.65z"/></g>
<line x1="173.5" y1="164.7" x2="173.5" y2="256.9" stroke="#333" stroke-width="1.0"/>
<line x1="139.05" y1="207.5" x2="231.55" y2="207.5" stroke="#333" stroke-width="1.0"/>
<rect x="139.05" y="164.7" width="92.5" height="92.19999999999999" fill="none" stroke="#111" stroke-width="1.1"/>
<rect x="140.8" y="167.0" width="5.7" height="7.6" fill="#fff"/>
<text x="141.55" y="173.6" font-size="8.4" textLength="4.25" lengthAdjust="spacingAndGlyphs" fill="#1a1a1a" stroke="#1a1a1a" stroke-width="0.08">0</text>
<rect x="209.6" y="167.0" width="20.0" height="7.6" fill="#fff"/>
<text x="228.95000000000002" y="173.6" font-size="8.4" text-anchor="end" textLength="18.57" lengthAdjust="spacingAndGlyphs" fill="#1a1a1a" stroke="#1a1a1a" stroke-width="0.08">0.011</text>
<rect x="140.8" y="246.2" width="16.3" height="7.6" fill="#fff"/>
<text x="141.55" y="252.79999999999998" font-size="8.4" textLength="14.89" lengthAdjust="spacingAndGlyphs" fill="#1a1a1a" stroke="#1a1a1a" stroke-width="0.08">98.1</text>
<rect x="217.5" y="246.2" width="12.0" height="7.6" fill="#fff"/>
<text x="228.95000000000002" y="252.79999999999998" font-size="8.4" text-anchor="end" textLength="10.63" lengthAdjust="spacingAndGlyphs" fill="#1a1a1a" stroke="#1a1a1a" stroke-width="0.08">1.9</text>
<line x1="23.4" y1="169.89999999999998" x2="23.4" y2="226.2" stroke="#111" stroke-width="1.0"/>
<path d="M20.30,171.50 L23.40,164.90 L26.50,171.50 Z" fill="#111"/>
<text transform="translate(27.0,241.7) rotate(-90)" text-anchor="middle" font-size="11" font-weight="bold" textLength="13.0" lengthAdjust="spacingAndGlyphs" fill="#151515" stroke="#151515" stroke-width="0.2">CD5</text>
<text x="38.7" y="269.65000000000003" font-size="11" font-weight="bold" textLength="13.2" lengthAdjust="spacingAndGlyphs" fill="#151515" stroke="#151515" stroke-width="0.2">CD7</text>
<line x1="59.2" y1="265.85" x2="225.55" y2="265.85" stroke="#111" stroke-width="1.0"/>
<path d="M223.95,262.75 L230.55,265.85 L223.95,268.95 Z" fill="#111"/>
<clipPath id="c5"><rect x="33.2" y="276.40000000000003" width="91.49999999999999" height="90.19999999999997"/></clipPath><g clip-path="url(#c5)"><g fill="#000" fill-opacity="0.04" stroke="#555" stroke-width="0.4" stroke-opacity="0.85"><path d="M50.6 361.3l-5.5 -0.1l-5 -2.4l-3.9 -4.5l-1.9 -5.5l0.2 -5.5l2.3 -5.5l4.3 -4.3l5 -1.9l4 0l4 1.3l7.5 5.5l7 2l3 1.4l2.2 2l1 2l-0.6 3l-2.6 2.4l-3 1.4l-7 2l-6.5 4.9l-4.5 1.8z"/><path d="M49.1 357.8l-4 -0.4l-3.7 -2.1l-2.6 -3.5l-1.2 -4.5l0.6 -4.5l2.2 -4l3.2 -2.6l4 -1l4 0.6l3.5 2.1l3.6 4.4l1.8 4l-1.2 3.5l-3.4 4.5l-3.3 2.5l-3.5 1z"/><path d="M49.6 355.9l-3.5 -0.1l-3.1 -1.5l-2.5 -3l-1.1 -3.5l0.1 -3.5l1.6 -3.5l2.5 -2.4l3.5 -1.3l3.5 0.3l3 1.6l2.7 3.3l1.2 3.5l-0.3 3l-1.9 3.5l-2.7 2.4l-3 1.2z"/><path d="M50.6 354.3l-3 0.4l-3 -0.9l-2.4 -2l-1.5 -3l-0.2 -3.5l1 -3l2.1 -2.5l2.5 -1.3l3 -0.2l3 1.1l2.4 2.4l1.3 2.5l0.3 3l-1 3l-2 2.5l-2.5 1.5z"/><path d="M50.1 353.5l-3 0.2l-2.4 -0.9l-2 -2l-1.1 -2.5l-0.1 -3l0.8 -2.5l1.8 -2.1l2.5 -1.2l2.5 -0.1l2.5 1l2.1 1.9l1.1 2.5l0.2 2.5l-0.7 2.5l-1.7 2.2l-2.5 1.5z"/><path d="M49.1 352.8l-2.5 -0.1l-2 -1.1l-1.6 -1.8l-0.8 -2.5l0.2 -2.5l1.2 -2.4l1.9 -1.6l2.1 -0.6l2.5 0.3l2 1.3l1.5 2l0.5 2l-0.2 2.5l-0.9 2l-1.9 1.7l-2 0.8z"/><path d="M49.6 351.8l-2 0.2l-2 -0.7l-1.7 -1.5l-0.8 -2l-0 -2.5l0.8 -2l1.5 -1.5l1.7 -0.8l2 0l2 0.9l2.1 3.4l0.1 2l-0.7 2l-1.2 1.5l-1.8 1z"/><path d="M48.1 351.3l-2 -0.5l-1.2 -1l-0.9 -1.5l-0.3 -2l1.4 -3.3l3 -1.3l3 1.2l1 1.4l0.5 2l-0.3 2l-0.9 1.5l-1.3 1l-2 0.5z"/><path d="M49.1 350.3l-2.5 -0.2l-1.9 -2.3l0.1 -3l2.3 -2l2.5 0.1l2 2.4l-0.2 3l-2.3 2z"/><path d="M49.1 349.5l-2.5 -0.3l-1.3 -1.9l0.3 -2.5l2 -1.4l2 0.4l1.4 2l-0.4 2.5l-1.5 1.2z" stroke="#333" stroke-width="0.6"/><path d="M49.1 348.3l-1.5 0.2l-1 -0.7l-0.4 -1.5l0.9 -1.6l1.5 -0.2l1.1 0.8l0.3 1.5l-0.9 1.5z" stroke="#333" stroke-width="0.6"/></g><path fill="#888" d="M74.4 351.3h.65v.65h-.65zM100.2 345.1h.65v.65h-.65zM82.8 330.4h.65v.65h-.65zM82.5 352.3h.65v.65h-.65zM71.7 333.9h.65v.65h-.65zM71.5 348.0h.65v.65h-.65zM70.5 346.3h.65v.65h-.65zM78.6 363.9h.65v.65h-.65zM74.7 329.0h.65v.65h-.65zM93.1 338.9h.65v.65h-.65zM90.7 348.4h.65v.65h-.65zM80.6 348.9h.65v.65h-.65zM68.1 335.1h.65v.65h-.65zM64.1 343.8h.65v.65h-.65zM79.9 339.5h.65v.65h-.65zM76.8 350.4h.65v.65h-.65zM85.9 340.1h.65v.65h-.65zM88.0 348.1h.65v.65h-.65zM76.6 334.2h.65v.65h-.65zM79.0 324.9h.65v.65h-.65zM68.6 337.7h.65v.65h-.65zM87.1 337.1h.65v.65h-.65zM82.6 329.0h.65v.65h-.65zM94.2 351.2h.65v.65h-.65zM85.3 334.9h.65v.65h-.65zM67.2 329.1h.65v.65h-.65zM80.5 333.9h.65v.65h-.65zM74.0 341.6h.65v.65h-.65zM84.6 338.8h.65v.65h-.65zM79.9 346.3h.65v.65h-.65zM86.4 343.0h.65v.65h-.65zM93.5 324.2h.65v.65h-.65zM79.4 340.9h.65v.65h-.65zM77.6 349.0h.65v.65h-.65zM68.3 349.9h.65v.65h-.65zM96.4 352.9h.65v.65h-.65zM79.8 344.1h.65v.65h-.65zM64.1 336.2h.65v.65h-.65zM79.1 354.6h.65v.65h-.65zM70.4 330.7h.65v.65h-.65zM78.3 344.7h.65v.65h-.65zM78.3 340.1h.65v.65h-.65zM79.3 333.9h.65v.65h-.65zM70.2 334.7h.65v.65h-.65zM74.6 340.6h.65v.65h-.65zM83.0 335.1h.65v.65h-.65zM86.7 348.5h.65v.65h-.65zM76.4 354.3h.65v.65h-.65zM77.2 345.8h.65v.65h-.65zM77.5 333.2h.65v.65h-.65zM101.3 330.1h.65v.65h-.65zM71.2 328.0h.65v.65h-.65zM75.8 340.6h.65v.65h-.65zM83.7 333.2h.65v.65h-.65zM77.0 334.7h.65v.65h-.65zM78.9 340.3h.65v.65h-.65zM78.9 323.0h.65v.65h-.65zM85.1 324.1h.65v.65h-.65zM72.2 326.6h.65v.65h-.65zM91.2 336.3h.65v.65h-.65zM80.0 348.8h.65v.65h-.65zM75.5 329.5h.65v.65h-.65zM66.8 345.4h.65v.65h-.65zM82.5 350.6h.65v.65h-.65zM70.9 341.5h.65v.65h-.65zM75.4 338.2h.65v.65h-.65zM79.9 341.1h.65v.65h-.65zM83.0 333.1h.65v.65h-.65zM73.2 350.5h.65v.65h-.65zM90.7 338.5h.65v.65h-.65zM79.2 332.3h.65v.65h-.65zM85.0 344.6h.65v.65h-.65zM63.4 324.5h.65v.65h-.65zM70.7 318.5h.65v.65h-.65zM87.6 321.5h.65v.65h-.65zM74.5 342.0h.65v.65h-.65zM86.6 340.5h.65v.65h-.65zM74.9 337.1h.65v.65h-.65zM76.2 321.4h.65v.65h-.65zM78.7 346.3h.65v.65h-.65zM74.3 318.4h.65v.65h-.65zM84.1 330.9h.65v.65h-.65zM92.1 329.2h.65v.65h-.65zM83.2 328.2h.65v.65h-.65zM79.6 325.6h.65v.65h-.65zM81.4 316.4h.65v.65h-.65zM84.1 320.5h.65v.65h-.65zM83.6 328.3h.65v.65h-.65zM85.1 326.4h.65v.65h-.65zM79.4 332.5h.65v.65h-.65zM80.4 322.9h.65v.65h-.65zM76.6 334.6h.65v.65h-.65zM86.9 314.0h.65v.65h-.65zM87.2 318.0h.65v.65h-.65zM86.2 320.7h.65v.65h-.65z"/></g>
<line x1="64.5" y1="275.8" x2="64.5" y2="367.2" stroke="#333" stroke-width="1.0"/>
<line x1="32.6" y1="336.5" x2="125.3" y2="336.5" stroke="#333" stroke-width="1.0"/>
<rect x="32.6" y="275.8" width="92.69999999999999" height="91.39999999999998" fill="none" stroke="#111" stroke-width="1.1"/>
<rect x="34.3" y="278.1" width="20.5" height="7.6" fill="#fff"/>
<text x="35.1" y="284.7" font-size="8.4" textLength="19.14" lengthAdjust="spacingAndGlyphs" fill="#1a1a1a" stroke="#1a1a1a" stroke-width="0.08">0.101</text>
<rect x="102.8" y="278.1" width="20.5" height="7.6" fill="#fff"/>
<text x="122.7" y="284.7" font-size="8.4" text-anchor="end" textLength="19.14" lengthAdjust="spacingAndGlyphs" fill="#1a1a1a" stroke="#1a1a1a" stroke-width="0.08">0.217</text>
<rect x="34.3" y="356.5" width="16.3" height="7.6" fill="#fff"/>
<text x="35.1" y="363.09999999999997" font-size="8.4" textLength="14.89" lengthAdjust="spacingAndGlyphs" fill="#1a1a1a" stroke="#1a1a1a" stroke-width="0.08">96.4</text>
<rect x="107.0" y="356.5" width="16.3" height="7.6" fill="#fff"/>
<text x="122.7" y="363.09999999999997" font-size="8.4" text-anchor="end" textLength="14.89" lengthAdjust="spacingAndGlyphs" fill="#1a1a1a" stroke="#1a1a1a" stroke-width="0.08">3.31</text>
<clipPath id="c6"><rect x="139.65" y="276.40000000000003" width="91.3" height="90.19999999999997"/></clipPath><g clip-path="url(#c6)"><g fill="#000" fill-opacity="0.04" stroke="#555" stroke-width="0.4" stroke-opacity="0.85"><path d="M156.1 362.9l-2.5 0.1l-3 -0.8l-4.9 -3.4l-3.3 -5.5l-1.4 -6.5l0.8 -7l2.5 -5.5l4.3 -4.3l3 -1.3l2.5 -0.4l4.5 0.7l3.5 2.1l10.4 9.7l1.3 2l0.6 2.5l-0.6 3l-2.2 3l-10 9.2l-2.5 1.5l-3 0.9z"/><path d="M156.1 358.3l-4 -0.2l-3.7 -2.3l-2.6 -4l-1.2 -5l0.4 -5l1.9 -4.5l3.2 -3.2l4 -1.3l4 0.7l3.1 2.3l3.7 5l1.5 4.5l-0.7 3.5l-3 5l-3.1 3l-3.5 1.5z"/><path d="M156.1 356.4l-3.5 -0.1l-3 -1.8l-2.3 -3.2l-1.2 -4.5l0.4 -4.5l1.6 -3.7l2.5 -2.6l3.5 -1.2l3 0.4l3.1 2.1l2.5 3.5l1.3 4l-0.2 3l-1.8 4l-2.9 3.2l-3 1.4z"/><path d="M156.6 354.8l-3 0.3l-2.9 -1.3l-2.1 -2.5l-1.3 -3.5l-0 -4l1.1 -3.5l2.2 -2.8l3 -1.4l3 0.3l2.5 1.5l2.3 2.9l1.2 3.5l-0.2 3.5l-1.2 3l-2.1 2.5l-2.5 1.5z"/><path d="M156.1 353.8l-2.5 0.1l-2.5 -1.2l-2 -2.4l-1 -3.5l0.2 -3.5l1.2 -3l2.1 -2.2l2.5 -0.9l2.5 0.4l2.5 1.7l1.7 2.5l0.8 3l-0.3 3l-1 2.5l-1.7 2.1l-2.5 1.4z"/><path d="M155.6 352.9l-2.5 -0.2l-2 -1.2l-1.5 -2.2l-0.7 -2.5l0.1 -3l1.1 -2.8l2 -2.1l2 -0.7l2 0.2l2.2 1.4l1.7 2.5l0.7 2.5l-0.2 2.5l-0.9 2.5l-1.7 2l-2.3 1.1z"/><path d="M156.1 351.8l-2 0.2l-2 -0.8l-1.7 -1.9l-0.8 -2.5l0 -2.5l0.9 -2.5l1.6 -1.8l2 -0.8l2 0.2l1.5 0.9l1.5 1.9l0.7 2.1l0 2.5l-0.6 2l-1.5 2l-1.6 1z"/><path d="M156.1 350.9l-2 0.3l-1.5 -0.6l-1.5 -1.6l-0.8 -2.2l0.1 -2.5l0.7 -2l1.3 -1.5l1.7 -0.7l3 0.9l1.9 3.3l-0.4 4l-2.5 2.6z"/><path d="M156.1 349.9l-1.5 0.4l-1.5 -0.5l-1.1 -1l-0.9 -2l0.5 -3.7l1 -1.3l1.5 -0.7l2.5 0.6l1.6 2.6l-0.1 3.1l-2 2.5z"/><path d="M154.6 349.3l-2 -1.1l-0.9 -2.4l0.9 -2.8l2 -1.1l2 0.9l1 3l-0.9 2.5l-2.1 1z" stroke="#333" stroke-width="0.6"/><path d="M155.1 348l-1.5 -0.3l-0.9 -1.9l0.4 -1.6l1.5 -1l1.3 0.6l0.7 1.5l-0.5 2l-1 0.7z" stroke="#333" stroke-width="0.6"/></g><path fill="#888" d="M176.2 337.6h.65v.65h-.65zM176.4 346.6h.65v.65h-.65zM178.2 339.7h.65v.65h-.65zM179.3 347.0h.65v.65h-.65zM180.5 340.3h.65v.65h-.65zM178.7 347.2h.65v.65h-.65zM187.7 344.3h.65v.65h-.65zM173.4 342.8h.65v.65h-.65zM178.0 345.5h.65v.65h-.65zM173.4 340.1h.65v.65h-.65zM181.6 352.2h.65v.65h-.65zM187.9 341.6h.65v.65h-.65zM174.4 332.1h.65v.65h-.65zM182.1 339.3h.65v.65h-.65zM181.7 346.3h.65v.65h-.65zM178.7 346.9h.65v.65h-.65zM180.5 347.7h.65v.65h-.65zM176.3 347.8h.65v.65h-.65zM180.1 349.2h.65v.65h-.65zM187.5 347.0h.65v.65h-.65zM171.8 344.4h.65v.65h-.65zM179.3 350.8h.65v.65h-.65zM189.3 347.2h.65v.65h-.65zM183.3 337.9h.65v.65h-.65zM178.5 336.5h.65v.65h-.65zM182.0 348.7h.65v.65h-.65zM180.3 339.1h.65v.65h-.65zM187.2 351.1h.65v.65h-.65zM180.6 341.6h.65v.65h-.65zM181.5 341.8h.65v.65h-.65zM181.6 340.0h.65v.65h-.65zM181.5 344.8h.65v.65h-.65zM176.4 346.0h.65v.65h-.65zM179.0 347.5h.65v.65h-.65zM190.4 338.0h.65v.65h-.65zM178.5 333.2h.65v.65h-.65zM183.4 348.1h.65v.65h-.65zM185.3 338.2h.65v.65h-.65zM180.6 343.6h.65v.65h-.65zM177.7 345.2h.65v.65h-.65zM183.3 336.6h.65v.65h-.65zM184.6 340.5h.65v.65h-.65zM182.7 336.3h.65v.65h-.65zM180.4 341.5h.65v.65h-.65zM177.6 341.0h.65v.65h-.65zM186.3 347.9h.65v.65h-.65zM176.6 355.5h.65v.65h-.65zM190.4 348.1h.65v.65h-.65zM185.3 345.2h.65v.65h-.65zM187.0 346.5h.65v.65h-.65zM161.8 309.2h.65v.65h-.65zM160.5 302.4h.65v.65h-.65zM156.9 319.4h.65v.65h-.65zM167.7 319.7h.65v.65h-.65zM160.4 323.1h.65v.65h-.65zM160.5 297.3h.65v.65h-.65zM159.6 317.4h.65v.65h-.65zM155.6 310.1h.65v.65h-.65zM153.7 320.6h.65v.65h-.65zM161.4 311.0h.65v.65h-.65zM161.8 285.2h.65v.65h-.65zM165.0 321.6h.65v.65h-.65zM164.1 343.0h.65v.65h-.65zM165.4 316.9h.65v.65h-.65zM159.1 312.4h.65v.65h-.65z"/></g>
<line x1="174.5" y1="275.8" x2="174.5" y2="367.2" stroke="#333" stroke-width="1.0"/>
<line x1="139.05" y1="335.5" x2="231.55" y2="335.5" stroke="#333" stroke-width="1.0"/>
<rect x="139.05" y="275.8" width="92.5" height="91.39999999999998" fill="none" stroke="#111" stroke-width="1.1"/>
<rect x="140.8" y="278.1" width="16.3" height="7.6" fill="#fff"/>
<text x="141.55" y="284.7" font-size="8.4" textLength="14.89" lengthAdjust="spacingAndGlyphs" fill="#1a1a1a" stroke="#1a1a1a" stroke-width="0.08">1.14</text>
<rect x="209.0" y="278.1" width="20.5" height="7.6" fill="#fff"/>
<text x="228.95000000000002" y="284.7" font-size="8.4" text-anchor="end" textLength="19.14" lengthAdjust="spacingAndGlyphs" fill="#1a1a1a" stroke="#1a1a1a" stroke-width="0.08">0.033</text>
<rect x="140.8" y="356.5" width="16.3" height="7.6" fill="#fff"/>
<text x="141.55" y="363.09999999999997" font-size="8.4" textLength="14.89" lengthAdjust="spacingAndGlyphs" fill="#1a1a1a" stroke="#1a1a1a" stroke-width="0.08">97.2</text>
<rect x="213.3" y="356.5" width="16.3" height="7.6" fill="#fff"/>
<text x="228.95000000000002" y="363.09999999999997" font-size="8.4" text-anchor="end" textLength="14.89" lengthAdjust="spacingAndGlyphs" fill="#1a1a1a" stroke="#1a1a1a" stroke-width="0.08">1.62</text>
<line x1="23.4" y1="281.0" x2="23.4" y2="337.3" stroke="#111" stroke-width="1.0"/>
<path d="M20.30,282.60 L23.40,276.00 L26.50,282.60 Z" fill="#111"/>
<text transform="translate(27.0,352.8) rotate(-90)" text-anchor="middle" font-size="11" font-weight="bold" textLength="17.8" lengthAdjust="spacingAndGlyphs" fill="#151515" stroke="#151515" stroke-width="0.2">CD1a</text>
<text x="38.7" y="381.2" font-size="11" font-weight="bold" textLength="13.2" lengthAdjust="spacingAndGlyphs" fill="#151515" stroke="#151515" stroke-width="0.2">CD7</text>
<line x1="59.2" y1="377.4" x2="225.55" y2="377.4" stroke="#111" stroke-width="1.0"/>
<path d="M223.95,374.30 L230.55,377.40 L223.95,380.50 Z" fill="#111"/>
<clipPath id="c7"><rect x="275.1" y="54.1" width="90.65000000000002" height="90.60000000000001"/></clipPath><g clip-path="url(#c7)"><g fill="#000" fill-opacity="0.014" stroke="#555" stroke-width="0.4" stroke-opacity="0.85"><path d="M344 144.5l-11.3 -0l-1.2 -1.6l-1.5 -0.6l-4.2 2.2l-19.5 -0l-9.3 -6.4l-4.5 -4.6l-2.8 -4.5l-2.4 -6l-1.5 -6.5l-0.6 -7l0.3 -8.5l2 -12.5l-1.7 -9.5l1.5 -3.5l3.1 -3l5.6 -3.3l7.5 -3l7 -2.1l6 -0.7l6 0.5l10 2.7l6.5 0l2.5 1.5l2.9 3.4l2.5 4l1.1 3.5l-0.5 9l1.1 21l-1.3 20l-1.5 9l-1.8 6.5z"/><path d="M339 144.1l-1.5 -0.6l-1.5 -1.9l-4.5 -10.4l-1.5 -1.7l-1.5 0.6l-4 5.9l-3 2.9l-3.5 1.7l-3.5 0.2l-4.5 -1.7l-6.5 -5.4l-6 -3.7l-4.4 -5l-1.9 -4l-1.5 -5l-0.7 -5.5l-0 -5.5l0.9 -6.5l3 -10.5l-1.3 -9l1.5 -3l3.1 -2.5l4.8 -2.2l5.5 -1.6l6 -0.9l6 -0.2l20 3.1l2.5 1.4l2 2.4l1.5 4.5l1.7 19l0.1 19l-1 10.5l-1.6 8l-2.2 5.6l-1 1.3l-1.5 0.7z"/><path d="M339.5 140.2l-2 -0.7l-1.9 -3l-4.6 -15.3l-1.5 -2.9l-1.5 0.6l-1.5 2.4l-4.9 12.2l-2.6 2.5l-2.5 1l-2.5 -0.2l-2 -0.9l-6.2 -6.4l-7.8 -3.6l-3.5 -3.7l-1.8 -3.7l-1.2 -4.5l-0.5 -9.5l1.4 -7l4.1 -9.5l-1.8 -6.5l-0 -2.5l1.3 -2.5l2.5 -2l4 -1.8l5 -1.4l6 -0.9l5.5 -0l6 0.7l8 2.2l5 0.8l2 1l1.5 1.6l1.4 3.8l2 16l0.7 17.5l-0.7 10l-1.4 8l-2 6l-2 2.2z"/><path d="M339.5 138.2l-1 -0l-1.5 -1.4l-2.1 -4.8l-5.7 -26.5l-0.1 -2l2.9 -14l-0.1 -1.5l-0.9 -0.9l-3.4 1.4l-2.3 3l0.1 2l3.5 11.5l-2.2 7l-4.1 9l-2 9l-2.1 3.2l-2.5 1.2l-2.5 -0.5l-2.1 -1.9l-3.9 -5.6l-8.5 -2.3l-2 -1.4l-2 -2.5l-2.6 -7.2l-0.3 -8.5l1.9 -7.5l5.1 -8.5l-0.1 -1.5l-2.2 -4.5l-0.5 -2.5l0.8 -2.5l2.7 -2.5l3.7 -1.7l5 -1.4l10.5 -0.7l6.5 0.9l8 2.5l4.5 0.9l2.6 2l1.4 3.5l2.3 14.5l0.9 17l-0.6 9l-1.2 8.5l-1.9 5.9l-2 2.3z"/><path d="M340 136.6l-1 0.4l-1 -0.4l-2 -3.1l-1.8 -5.5l-1.5 -8l-1.9 -17l0.5 -6.5l1.7 -8.5l-0.1 -1.5l-0.9 -0.9l-2 0.2l-3.3 1.7l-3.9 2.5l-1.3 1.5l0.1 2l3.1 7l0.4 6l-1.6 5.5l-4.3 8l-0.5 8l-1.4 3l-1.8 0.7l-2 -0.9l-1.1 -1.8l-1.4 -4.5l-1.3 -1.5l-9.2 0.1l-2.5 -1.2l-2.5 -2.8l-2.4 -6.6l-0.2 -8l0.9 -4.5l1.8 -4l1.9 -2.6l4.8 -4.4l-4 -6l-0.9 -2.5l0.5 -2.5l2.5 -2.5l3.6 -1.8l5 -1.3l10.5 -0.7l6.5 1.1l7.5 2.7l4 0.9l2.8 2.1l1.1 3l2.5 13.5l1 15.5l-0.4 8.5l-1 8.5l-1.5 5.7l-2 3.4z"/><path d="M339.5 136.2l-1 -0l-1 -0.8l-1.8 -3.4l-1.6 -6l-1.5 -8.5l-1.4 -16.5l0.5 -5.5l1.8 -8l-0.2 -2l-0.8 -0.7l-2 0.2l-10 4.8l-3.5 1.1l-2.5 -0.1l-8 -2.1l-5 -3l-3.1 -4.2l-0 -3l2.8 -3l3.8 -1.7l4.5 -1.2l10.5 -0.5l6 1.1l7.5 3l4 0.9l2.5 2l1 2.7l2.8 13.7l0.9 15.5l-0.4 9l-1.1 8l-1.7 5.7l-2 2.5zM304 122.1l-3 0.2l-2.5 -1l-2.3 -2.3l-1.8 -3.5l-1 -4.5l-0.2 -5l0.7 -4.5l1.5 -4l3.1 -3.9l4 -1.9l2.5 0.1l6 2.1l5 -0l2 0.7l3 2.6l1.9 4.3l0.2 5l-1.4 4.5l-2.2 3.1l-3 2.6l-12.5 5.4z"/><path d="M339.5 135.3l-1 -0l-1 -0.8l-1.9 -4l-1.7 -7l-1.1 -8l-1.2 -16l0.6 -5l1.9 -7.5l-0.1 -2.5l-1 -0.9l-1.5 0.1l-8 3.7l-5.5 1.5l-4.5 -0.2l-6.5 -1.4l-5 -2.4l-2.7 -3.4l-0.1 -3l2.8 -2.8l3.7 -1.7l4.8 -1.1l10 -0.3l7.5 1.7l6 2.9l4 1.1l1.5 1.4l3.9 14.8l1.1 15.5l-0.3 9l-1.1 8l-1.6 5.7l-2 2.6zM302.5 121l-3.5 -0.6l-2.6 -2.4l-2 -4.5l-0.7 -6l0.7 -5.5l1.9 -4.5l2.7 -3l3.5 -1l3 0.7l6.5 3.7l5.5 1.8l1.6 1.8l0.8 3l-0.4 2.5l-1.6 2.5l-5.4 3.7l-6 6l-4 1.8z"/><path d="M339.5 134.2l-1 -0l-1.2 -1.2l-2.2 -5.5l-1.4 -7.5l-1.6 -14.5l-0 -8.5l3 -11.5l-0.4 -3l-0.7 -0.7l-1 0l-7.5 3.9l-5 1.6l-4.5 0.4l-5 -0.6l-6.5 -1.9l-3.5 -2.7l-1 -2l0.1 -1.5l0.8 -1.5l1.7 -1.5l3.9 -1.8l4.5 -1l5.5 -0.5l5 0.4l6.8 1.9l5.7 3.8l3.5 0.8l1.5 1.3l4 13.1l1.3 15l-0.3 9.5l-1 7.5l-1.5 5.5l-2 2.7zM302 119.5l-3 -0.5l-2.4 -2.5l-1.6 -4l-0.6 -5l0.7 -5l1.7 -4l2.2 -2.4l3 -0.9l3 0.9l3.3 2.9l2.3 3.5l0.8 3.5l-1 4l-2.6 5l-2.8 3.1l-3 1.4z"/><path d="M318 86.5l-6.5 -0.4l-6.5 -2l-3.1 -2.6l-0.5 -1.5l0.3 -1.5l1.8 -2l3 -1.5l4.5 -1.2l5 -0.4l9 1.1l3.5 1.5l2.3 2l0.6 1.5l-0.2 1l-2.6 2.5l-5.1 2.4l-5.5 1.1zM339.5 132.8l-1.4 -0.3l-1.1 -1.5l-1.8 -5.5l-3 -24l0.4 -5.5l1.1 -4.5l2.8 -6.2l1.5 -1.5l2 2.3l2.1 5.9l1.2 6.5l0.6 8.5l-0.1 9.5l-0.9 8l-1.4 5.4l-2 2.9zM302.5 117.1l-2.5 0.2l-2 -1.3l-1.7 -3l-0.8 -4l0.3 -4.5l1.1 -3.5l1.9 -2.5l2.2 -1l2.5 0.6l2.2 1.9l1.6 3l0.5 3l-0.3 3.5l-1.2 3.5l-1.8 2.6l-2 1.5z"/><path d="M320.5 85l-6 0.3l-6.5 -1.4l-4 -2.4l-0.7 -2.5l1.2 -1.7l2.5 -1.5l7.5 -1.6l8.5 0.6l3.3 1.2l2.1 1.5l0.9 2l-1 2l-3.3 2.1l-4.5 1.4zM339.5 131.1l-1 -0l-1 -1.1l-2 -5.5l-2.9 -23l0.3 -5l1.1 -4.5l2 -3.8l2 -1.5l2 1.6l1.7 4.2l1.2 6l0.6 8.5l-0.1 8.5l-0.8 7.5l-1.4 5.5l-1.7 2.6zM301.5 114.1l-1.5 -0l-1.5 -1.2l-1 -2.1l-0.4 -2.8l1 -5l1.4 -1.7l1.5 -0.5l1.5 0.5l1.2 1.2l1.3 4.5l-1 4.5l-1 1.5l-1.5 1.1z"/><path d="M318.5 84l-5 -0.1l-4.5 -1.1l-2.8 -1.8l-0.6 -2l1.1 -1.5l2.3 -1.3l6.5 -1.2l6.5 0.6l2.5 0.9l2 1.5l0.4 2l-1.4 1.7l-3 1.5l-4 0.8zM339 129.1l-1.7 -1.6l-1.5 -5l-2.8 -21.5l0.3 -4.5l1 -4l1.7 -3l2 -1.1l2 1.7l1.5 3.9l1.1 6l0.5 8l-0.2 8l-0.8 7l-1.6 4.9l-1.5 1.2z"/><path d="M319.5 81.6l-3 0.4l-3.3 -0.5l-2.2 -1l-0.5 -1.5l1 -1l3 -0.9l5.5 0.3l2 1.1l0.4 1l-0.6 1l-2.3 1.1zM339 125.6l-1.5 -1.7l-1 -3.3l-2.9 -19.6l0.9 -7l1.5 -2.7l1.5 -0.8l1.8 1l1.4 3l1.6 11.5l-0 7.5l-0.7 6.5l-1.1 4.1l-1.5 1.5z"/><path d="M339.5 118.6l-1 -0.1l-0.5 -1l-3.5 -15.5l0.4 -6l0.8 -2l1.3 -1.2l1.5 0.6l1 1.6l1.2 6l0.2 11.5l-1.4 6.1z"/></g><path fill="#888" d="M286.6 78.1h.65v.65h-.65zM285.3 79.8h.65v.65h-.65zM286.9 130.2h.65v.65h-.65zM285.7 100.9h.65v.65h-.65zM290.6 62.6h.65v.65h-.65zM287.7 101.3h.65v.65h-.65zM288.4 98.9h.65v.65h-.65zM285.4 114.6h.65v.65h-.65zM284.6 104.5h.65v.65h-.65zM286.2 96.1h.65v.65h-.65zM280.9 93.8h.65v.65h-.65zM288.0 104.2h.65v.65h-.65zM284.6 97.8h.65v.65h-.65zM290.6 99.5h.65v.65h-.65zM287.2 94.7h.65v.65h-.65zM285.6 109.8h.65v.65h-.65zM287.3 101.1h.65v.65h-.65zM290.5 100.2h.65v.65h-.65zM287.7 117.0h.65v.65h-.65zM284.8 96.0h.65v.65h-.65zM287.9 127.7h.65v.65h-.65zM290.9 113.1h.65v.65h-.65zM293.4 102.0h.65v.65h-.65zM289.9 98.7h.65v.65h-.65zM286.2 123.3h.65v.65h-.65zM289.1 87.1h.65v.65h-.65zM284.1 125.1h.65v.65h-.65zM281.5 103.4h.65v.65h-.65zM291.8 97.6h.65v.65h-.65zM290.5 122.9h.65v.65h-.65zM290.4 106.1h.65v.65h-.65zM292.4 104.8h.65v.65h-.65zM290.6 139.6h.65v.65h-.65zM286.7 114.9h.65v.65h-.65zM289.6 125.8h.65v.65h-.65zM292.5 123.7h.65v.65h-.65zM284.9 100.2h.65v.65h-.65zM290.3 106.5h.65v.65h-.65zM287.6 129.1h.65v.65h-.65zM285.6 121.7h.65v.65h-.65zM311.1 134.2h.65v.65h-.65zM316.1 137.9h.65v.65h-.65zM321.1 135.1h.65v.65h-.65zM306.5 133.8h.65v.65h-.65zM307.5 127.4h.65v.65h-.65zM325.1 131.5h.65v.65h-.65zM307.9 139.6h.65v.65h-.65zM317.8 137.0h.65v.65h-.65zM326.2 141.4h.65v.65h-.65zM310.0 139.3h.65v.65h-.65zM306.8 133.1h.65v.65h-.65zM307.9 124.4h.65v.65h-.65zM314.1 125.6h.65v.65h-.65zM309.8 136.0h.65v.65h-.65zM309.6 131.3h.65v.65h-.65zM316.1 132.3h.65v.65h-.65zM314.9 125.3h.65v.65h-.65zM325.3 130.6h.65v.65h-.65zM311.8 120.8h.65v.65h-.65zM316.0 139.2h.65v.65h-.65zM317.3 131.9h.65v.65h-.65zM320.9 135.0h.65v.65h-.65zM304.3 136.1h.65v.65h-.65zM315.8 124.0h.65v.65h-.65zM319.5 131.9h.65v.65h-.65zM325.0 133.3h.65v.65h-.65zM320.7 130.2h.65v.65h-.65zM311.7 138.1h.65v.65h-.65zM316.6 135.7h.65v.65h-.65zM299.6 127.0h.65v.65h-.65zM336.2 127.6h.65v.65h-.65zM321.7 124.8h.65v.65h-.65zM322.8 140.7h.65v.65h-.65zM308.6 130.0h.65v.65h-.65zM323.6 132.4h.65v.65h-.65zM322.3 133.5h.65v.65h-.65zM313.9 129.5h.65v.65h-.65zM320.1 128.3h.65v.65h-.65zM330.1 132.8h.65v.65h-.65zM322.0 131.9h.65v.65h-.65zM321.0 126.9h.65v.65h-.65zM323.1 126.1h.65v.65h-.65zM330.4 132.8h.65v.65h-.65zM316.7 130.0h.65v.65h-.65zM311.3 134.3h.65v.65h-.65zM313.5 133.5h.65v.65h-.65zM316.2 134.2h.65v.65h-.65zM328.8 127.3h.65v.65h-.65zM312.4 131.8h.65v.65h-.65zM322.5 130.9h.65v.65h-.65zM326.1 127.7h.65v.65h-.65zM314.5 132.1h.65v.65h-.65zM321.6 142.0h.65v.65h-.65zM314.3 118.8h.65v.65h-.65zM312.0 136.3h.65v.65h-.65zM330.9 126.7h.65v.65h-.65zM312.5 134.4h.65v.65h-.65zM313.3 133.3h.65v.65h-.65zM323.5 138.3h.65v.65h-.65zM311.7 129.4h.65v.65h-.65zM313.0 136.2h.65v.65h-.65zM316.2 121.5h.65v.65h-.65zM307.5 123.8h.65v.65h-.65zM315.5 124.8h.65v.65h-.65zM324.8 127.0h.65v.65h-.65zM327.4 128.0h.65v.65h-.65zM314.2 126.5h.65v.65h-.65zM320.3 134.4h.65v.65h-.65zM319.4 132.5h.65v.65h-.65zM304.1 128.6h.65v.65h-.65zM304.9 136.3h.65v.65h-.65zM305.7 129.3h.65v.65h-.65zM319.3 128.4h.65v.65h-.65zM317.1 123.2h.65v.65h-.65zM312.4 138.5h.65v.65h-.65zM314.1 120.3h.65v.65h-.65zM308.2 123.1h.65v.65h-.65zM314.7 128.6h.65v.65h-.65zM311.2 140.1h.65v.65h-.65zM311.6 127.1h.65v.65h-.65zM301.8 134.5h.65v.65h-.65zM325.9 122.4h.65v.65h-.65zM325.8 128.2h.65v.65h-.65zM315.0 136.2h.65v.65h-.65zM326.9 133.0h.65v.65h-.65zM324.1 133.1h.65v.65h-.65zM324.5 133.6h.65v.65h-.65zM307.8 129.2h.65v.65h-.65zM313.4 66.7h.65v.65h-.65zM285.9 66.8h.65v.65h-.65zM310.4 68.2h.65v.65h-.65zM322.0 65.6h.65v.65h-.65zM346.1 63.1h.65v.65h-.65zM290.2 70.1h.65v.65h-.65zM307.5 66.5h.65v.65h-.65zM299.1 69.1h.65v.65h-.65zM316.9 69.3h.65v.65h-.65zM344.2 68.6h.65v.65h-.65zM310.0 66.6h.65v.65h-.65zM292.4 67.6h.65v.65h-.65zM301.9 66.3h.65v.65h-.65zM311.2 69.3h.65v.65h-.65zM306.2 67.7h.65v.65h-.65zM317.0 67.5h.65v.65h-.65zM313.9 72.5h.65v.65h-.65zM342.4 70.0h.65v.65h-.65zM301.7 67.9h.65v.65h-.65zM336.1 67.5h.65v.65h-.65zM337.0 68.2h.65v.65h-.65zM326.5 67.5h.65v.65h-.65zM327.8 69.1h.65v.65h-.65zM351.2 65.1h.65v.65h-.65zM324.3 65.1h.65v.65h-.65zM320.6 68.8h.65v.65h-.65zM302.4 66.0h.65v.65h-.65zM298.6 69.9h.65v.65h-.65zM323.6 64.2h.65v.65h-.65zM348.2 69.1h.65v.65h-.65z"/></g>
<line x1="307.5" y1="53.5" x2="307.5" y2="145.3" stroke="#333" stroke-width="1.0"/>
<line x1="274.5" y1="92.5" x2="366.35" y2="92.5" stroke="#333" stroke-width="1.0"/>
<rect x="274.5" y="53.5" width="91.85000000000002" height="91.80000000000001" fill="none" stroke="#111" stroke-width="1.1"/>
<rect x="276.2" y="56.2" width="16.3" height="7.6" fill="#fff"/>
<text x="277.0" y="62.8" font-size="8.4" textLength="14.89" lengthAdjust="spacingAndGlyphs" fill="#1a1a1a" stroke="#1a1a1a" stroke-width="0.08">4.84</text>
<rect x="348.1" y="56.2" width="16.3" height="7.6" fill="#fff"/>
<text x="363.75" y="62.8" font-size="8.4" text-anchor="end" textLength="14.89" lengthAdjust="spacingAndGlyphs" fill="#1a1a1a" stroke="#1a1a1a" stroke-width="0.08">25.3</text>
<rect x="276.2" y="135.5" width="16.3" height="7.6" fill="#fff"/>
<text x="277.0" y="142.10000000000002" font-size="8.4" textLength="14.89" lengthAdjust="spacingAndGlyphs" fill="#1a1a1a" stroke="#1a1a1a" stroke-width="0.08">8.22</text>
<rect x="348.1" y="135.5" width="16.3" height="7.6" fill="#fff"/>
<text x="363.75" y="142.10000000000002" font-size="8.4" text-anchor="end" textLength="14.89" lengthAdjust="spacingAndGlyphs" fill="#1a1a1a" stroke="#1a1a1a" stroke-width="0.08">61.6</text>
<clipPath id="c8"><rect x="381.5" y="54.1" width="90.3" height="90.60000000000001"/></clipPath><g clip-path="url(#c8)"><g fill="#000" fill-opacity="0.014" stroke="#555" stroke-width="0.4" stroke-opacity="0.85"><path d="M432.9 144l-4.5 -0.4l-5 -1.7l-13.5 -8.4l-2 0l-5 2.1l-2 -0.2l-1.5 -0.7l-2.7 -3.2l-2 -5l-1 -6l0.1 -6.5l1.9 -8.5l3.2 -5l2 -1.1l2 0l5.5 3.6l2.5 -0l8.9 -8.5l7.6 -10.4l6.5 -4l3.5 -3.4l2 -0.5l1.5 0.8l1.6 2.5l4.1 9.5l2.3 8.3l3.9 9.2l1.5 6.5l0.2 7.5l-0.8 4.5l-1.5 4.5l-2.1 4l-2.7 3.6l-3.5 3.1l-3.5 2.1l-4 1.3l-3.5 0.4z"/><path d="M433.4 139.5l-5.5 -0.6l-5.5 -2.5l-5.1 -3.9l-5.9 -6.4l-1.5 -1l-1.5 0.7l-4.5 4.5l-2 0.5l-1.5 -0.5l-2 -2l-1.7 -3.8l-0.8 -4.5l0.1 -5.5l1.9 -7.2l1.5 -2.1l2 -1.1l1.5 0.1l1.5 0.9l4.5 5.9l1 0.7l1 -0.3l6.8 -8.4l7.3 -7.5l5.4 -7.4l3 -1.9l5 -1.7l1 0.7l1.5 2.7l3.2 9.6l5.2 10.5l1.4 6l0.1 6l-1.7 7l-3.9 6.5l-5.3 4.2l-3 1.2l-3.5 0.6z"/><path d="M433.4 137.5l-3.5 -0.2l-3.5 -1l-3.5 -1.9l-3.5 -2.8l-5.2 -6.6l-1.5 -3.5l-0.4 -3.5l1.8 -6l4.4 -7l9.2 -9l4.2 -4.9l2 -1.3l2 -0.4l1.5 0.4l1.5 1.7l2.6 6l5.6 9.5l1.7 5.5l0.5 6l-1.4 7l-3.5 6.1l-5 4.2l-6 1.7zM403.4 128.1l-2.5 0.1l-1.8 -1.7l-1.5 -3.5l-0.6 -4l0.1 -5l1.1 -4l1.7 -2.6l2 -0.9l2 0.8l1.8 2.2l1.5 3.5l0.9 4.5l-0.3 3.5l-1.1 3l-1.6 2.5l-1.7 1.6z"/><path d="M435.4 135.6l-3.5 0.3l-3.5 -0.6l-3.5 -1.5l-3 -2.1l-5.2 -6.2l-1.5 -3.5l-0.5 -3.5l1.4 -6.5l4.4 -7l3.4 -3.4l5 -3.9l4 -2.6l2 -0.6l3 1.9l6.7 8.6l2.5 6l0.9 6l-0.9 6.5l-2.6 5.5l-4.1 4.3l-5 2.3zM402.9 126l-2 -0.1l-1.4 -1.4l-1 -2.5l-0.6 -3.5l0.1 -3.5l0.9 -3.5l1.5 -2.3l1.5 -0.6l1.5 0.6l1.5 1.9l1.5 5.9l-0.8 5.5l-1.2 2.2l-1.5 1.3z"/><path d="M435.4 134.1l-3 0.4l-3.5 -0.6l-3 -1.2l-3 -2.1l-4.6 -5.6l-1.2 -3l-0.6 -3.5l1.1 -6l3.9 -6.5l5.9 -5.2l3.5 -1.9l3 -0.8l2 0.2l2 1.1l4.6 4.6l3.1 6l1.1 6.5l-0.6 6l-2.5 5.5l-3.7 4l-4.5 2.1zM402.9 123.5l-1.5 0.2l-1 -0.8l-1.4 -4.4l0.6 -5l0.8 -1.7l1.5 -0.9l2 1.6l1.1 4l-0.5 4.5l-1.6 2.5z"/><path d="M433.4 133l-5.5 -0.9l-5.3 -3.6l-3.5 -5.5l-1 -5.5l1.5 -6l3.6 -5.5l5.7 -4.5l3 -1.3l2.5 -0.3l4 1.5l3.9 4.1l2.4 5.5l0.9 6.5l-1.1 6l-2.6 4.8l-4 3.3l-4.5 1.4zM401.9 120.6l-1 -0.9l-0.5 -2.2l0.5 -2.5l1 -0.8l1 0.8l0.5 2.5l-0.5 2.3l-1 0.8z"/><path d="M432.9 131.5l-5 -1l-4.5 -3.4l-2.8 -4.6l-0.9 -5.5l1.5 -5.5l3.2 -4.7l5 -3.9l5 -1.4l4 1.4l3.3 3.6l2.1 5.5l0.6 6l-1.1 5l-2.5 4.5l-3.4 2.7l-4.5 1.3z"/><path d="M434.9 129.6l-4.5 0.1l-4.5 -2.3l-3.4 -4.4l-1.2 -5l0.9 -5l2.6 -4.5l4.6 -3.9l4.5 -1.7l3.5 0.8l3 2.8l1.9 4l0.8 5l-0.4 5l-1.6 4l-2.7 3.3l-3.5 1.8z"/><path d="M434.9 128l-4 0.2l-4 -1.9l-3 -3.8l-1.1 -4.5l0.7 -4.5l2.7 -4.5l4.2 -3.7l4 -1.3l3 0.9l2.5 2.5l1.5 3.6l0.6 4.5l-0.5 4.5l-1.3 3.5l-2.3 2.8l-3 1.7z"/><path d="M434.4 126.6l-3.5 0.1l-3.5 -1.8l-2.4 -3.4l-0.8 -4l0.7 -4l2.5 -4l3.5 -3.2l3.5 -1.2l2.5 0.6l2.3 2.3l1.3 3l0.5 4l-0.4 4l-1.3 3.5l-2 2.5l-2.9 1.6z"/><path d="M434.4 125l-3 0.2l-3 -1.4l-2.1 -2.8l-0.7 -3.5l0.8 -4l2.1 -3.5l2.9 -2.8l3 -1.1l2.5 0.7l1.6 1.7l1.1 2.5l0.4 3.5l-0.5 4l-1.1 2.9l-1.5 2.1l-2.5 1.5z"/><path d="M433.9 123.5l-2.5 0.1l-2.5 -1.5l-1.6 -2.6l-0.3 -3l0.8 -3l2.1 -3.5l2.5 -2.3l2.5 -0.6l2 0.8l1.3 1.6l0.9 5l-0.5 3l-1.1 3l-1.6 1.9l-2 1.1z"/><path d="M433.9 121.7l-2 0.2l-2 -1.2l-1.1 -1.7l-0.3 -2.5l0.7 -3l1.7 -3l2 -1.8l2 -0.5l1.5 0.7l1 1.1l0.8 4l-1.3 4.7l-1.5 2.1l-1.5 0.9z"/><path d="M432.9 119.5l-1.5 -0.5l-0.7 -1l-0.3 -3.5l2 -3.9l2.5 -1.1l1.8 1.5l0.3 3.5l-1.6 3.6l-2.5 1.4z"/></g><path fill="#888" d="M419.4 82.5h.65v.65h-.65zM417.4 86.4h.65v.65h-.65zM430.3 82.8h.65v.65h-.65zM446.6 83.6h.65v.65h-.65zM446.3 84.3h.65v.65h-.65zM452.7 79.5h.65v.65h-.65zM427.0 80.4h.65v.65h-.65zM441.2 90.0h.65v.65h-.65zM416.8 98.4h.65v.65h-.65zM419.4 77.1h.65v.65h-.65zM443.4 87.0h.65v.65h-.65zM416.4 90.5h.65v.65h-.65zM435.1 81.7h.65v.65h-.65zM440.5 81.4h.65v.65h-.65zM417.2 83.5h.65v.65h-.65zM421.2 61.0h.65v.65h-.65zM433.4 74.3h.65v.65h-.65zM441.2 84.5h.65v.65h-.65zM410.1 86.6h.65v.65h-.65zM407.1 79.1h.65v.65h-.65zM433.8 79.4h.65v.65h-.65zM420.8 66.6h.65v.65h-.65zM438.7 63.2h.65v.65h-.65zM421.1 75.8h.65v.65h-.65zM467.1 83.6h.65v.65h-.65zM412.8 87.6h.65v.65h-.65zM443.3 87.6h.65v.65h-.65zM426.8 75.4h.65v.65h-.65zM440.6 75.1h.65v.65h-.65zM422.7 78.6h.65v.65h-.65zM447.2 77.9h.65v.65h-.65zM465.9 86.0h.65v.65h-.65zM440.0 82.2h.65v.65h-.65zM417.3 73.2h.65v.65h-.65zM436.3 89.8h.65v.65h-.65zM450.4 86.3h.65v.65h-.65zM454.6 87.3h.65v.65h-.65zM422.0 71.5h.65v.65h-.65zM425.6 74.7h.65v.65h-.65zM446.0 88.7h.65v.65h-.65zM427.8 70.1h.65v.65h-.65zM431.4 71.8h.65v.65h-.65zM453.8 76.3h.65v.65h-.65zM432.5 79.1h.65v.65h-.65zM422.0 82.5h.65v.65h-.65zM437.5 75.8h.65v.65h-.65zM435.1 67.9h.65v.65h-.65zM401.9 90.0h.65v.65h-.65zM420.2 87.8h.65v.65h-.65zM433.5 77.2h.65v.65h-.65zM428.6 78.8h.65v.65h-.65zM434.0 70.6h.65v.65h-.65zM444.7 68.9h.65v.65h-.65zM425.8 80.1h.65v.65h-.65zM435.4 88.8h.65v.65h-.65zM443.5 83.7h.65v.65h-.65zM428.6 91.4h.65v.65h-.65zM439.3 65.8h.65v.65h-.65zM455.3 86.7h.65v.65h-.65zM445.1 80.3h.65v.65h-.65zM433.0 68.5h.65v.65h-.65zM428.3 80.5h.65v.65h-.65zM420.7 76.3h.65v.65h-.65zM419.9 76.3h.65v.65h-.65zM433.4 87.7h.65v.65h-.65zM419.4 87.9h.65v.65h-.65zM412.5 83.8h.65v.65h-.65zM444.4 85.3h.65v.65h-.65zM419.8 84.6h.65v.65h-.65zM422.5 73.2h.65v.65h-.65zM440.3 71.9h.65v.65h-.65zM449.1 87.5h.65v.65h-.65zM429.5 99.1h.65v.65h-.65zM445.6 91.1h.65v.65h-.65zM440.9 88.0h.65v.65h-.65zM445.8 81.8h.65v.65h-.65zM423.6 83.5h.65v.65h-.65zM422.9 78.8h.65v.65h-.65zM420.8 77.8h.65v.65h-.65zM454.1 87.1h.65v.65h-.65zM427.7 89.2h.65v.65h-.65zM421.9 91.3h.65v.65h-.65zM433.7 89.3h.65v.65h-.65zM441.5 65.9h.65v.65h-.65zM431.0 87.1h.65v.65h-.65zM401.2 77.6h.65v.65h-.65zM446.1 71.4h.65v.65h-.65zM429.4 93.2h.65v.65h-.65zM423.9 90.9h.65v.65h-.65zM408.5 74.2h.65v.65h-.65zM428.8 89.8h.65v.65h-.65zM423.8 89.9h.65v.65h-.65zM456.8 81.2h.65v.65h-.65zM414.0 84.5h.65v.65h-.65zM438.2 81.6h.65v.65h-.65zM430.1 78.7h.65v.65h-.65zM419.0 80.2h.65v.65h-.65zM430.7 81.8h.65v.65h-.65zM420.4 82.2h.65v.65h-.65zM440.3 71.9h.65v.65h-.65zM422.4 92.8h.65v.65h-.65zM430.1 87.1h.65v.65h-.65zM430.1 82.4h.65v.65h-.65zM440.9 82.9h.65v.65h-.65zM429.5 77.3h.65v.65h-.65zM412.7 76.9h.65v.65h-.65zM447.6 79.6h.65v.65h-.65zM436.2 80.1h.65v.65h-.65zM422.3 76.0h.65v.65h-.65zM427.9 76.2h.65v.65h-.65zM413.2 83.9h.65v.65h-.65zM410.4 92.4h.65v.65h-.65zM394.3 93.6h.65v.65h-.65zM403.4 87.3h.65v.65h-.65zM401.9 78.0h.65v.65h-.65zM396.8 84.4h.65v.65h-.65zM404.0 96.2h.65v.65h-.65zM398.7 88.7h.65v.65h-.65zM404.6 86.1h.65v.65h-.65zM404.0 86.1h.65v.65h-.65zM407.2 92.4h.65v.65h-.65zM399.1 86.4h.65v.65h-.65zM407.6 74.5h.65v.65h-.65zM411.3 92.7h.65v.65h-.65zM402.8 94.8h.65v.65h-.65zM410.4 94.5h.65v.65h-.65zM397.8 96.0h.65v.65h-.65zM411.8 95.0h.65v.65h-.65zM396.9 89.8h.65v.65h-.65zM416.8 82.7h.65v.65h-.65zM410.0 99.5h.65v.65h-.65zM399.2 95.8h.65v.65h-.65zM403.2 74.6h.65v.65h-.65zM411.9 94.7h.65v.65h-.65zM397.5 103.2h.65v.65h-.65zM407.3 88.8h.65v.65h-.65zM396.7 94.2h.65v.65h-.65zM404.7 91.6h.65v.65h-.65zM393.6 91.3h.65v.65h-.65zM402.4 89.9h.65v.65h-.65zM399.7 82.9h.65v.65h-.65zM398.0 71.9h.65v.65h-.65zM408.9 98.1h.65v.65h-.65zM392.4 89.8h.65v.65h-.65zM412.5 89.1h.65v.65h-.65zM407.6 96.7h.65v.65h-.65zM407.2 99.8h.65v.65h-.65zM407.6 82.7h.65v.65h-.65zM394.8 89.2h.65v.65h-.65zM401.8 84.1h.65v.65h-.65z"/></g>
<line x1="413.5" y1="53.5" x2="413.5" y2="145.3" stroke="#333" stroke-width="1.0"/>
<line x1="380.9" y1="92.5" x2="472.4" y2="92.5" stroke="#333" stroke-width="1.0"/>
<rect x="380.9" y="53.5" width="91.5" height="91.80000000000001" fill="none" stroke="#111" stroke-width="1.1"/>
<rect x="382.6" y="56.2" width="20.5" height="7.6" fill="#fff"/>
<text x="383.4" y="62.8" font-size="8.4" textLength="19.14" lengthAdjust="spacingAndGlyphs" fill="#1a1a1a" stroke="#1a1a1a" stroke-width="0.08">0.248</text>
<rect x="454.1" y="56.2" width="16.3" height="7.6" fill="#fff"/>
<text x="469.79999999999995" y="62.8" font-size="8.4" text-anchor="end" textLength="14.89" lengthAdjust="spacingAndGlyphs" fill="#1a1a1a" stroke="#1a1a1a" stroke-width="0.08">3.15</text>
<rect x="382.6" y="135.5" width="9.3" height="7.6" fill="#fff"/>
<text x="383.4" y="142.10000000000002" font-size="8.4" textLength="7.94" lengthAdjust="spacingAndGlyphs" fill="#1a1a1a" stroke="#1a1a1a" stroke-width="0.08">11</text>
<rect x="454.1" y="135.5" width="16.3" height="7.6" fill="#fff"/>
<text x="469.79999999999995" y="142.10000000000002" font-size="8.4" text-anchor="end" textLength="14.89" lengthAdjust="spacingAndGlyphs" fill="#1a1a1a" stroke="#1a1a1a" stroke-width="0.08">85.6</text>
<line x1="263.5" y1="58.7" x2="263.5" y2="115.0" stroke="#111" stroke-width="1.0"/>
<path d="M260.40,60.30 L263.50,53.70 L266.60,60.30 Z" fill="#111"/>
<text transform="translate(267.1,130.5) rotate(-90)" text-anchor="middle" font-size="11" font-weight="bold" textLength="16.4" lengthAdjust="spacingAndGlyphs" fill="#151515" stroke="#151515" stroke-width="0.2">CD34</text>
<text x="279.5" y="158.25" font-size="11" font-weight="bold" textLength="13.2" lengthAdjust="spacingAndGlyphs" fill="#151515" stroke="#151515" stroke-width="0.2">CD7</text>
<line x1="299.2" y1="154.45" x2="466.4" y2="154.45" stroke="#111" stroke-width="1.0"/>
<path d="M464.80,151.35 L471.40,154.45 L464.80,157.55 Z" fill="#111"/>
<clipPath id="c9"><rect x="275.1" y="165.4" width="90.65000000000002" height="90.3"/></clipPath><g clip-path="url(#c9)"><g fill="#000" fill-opacity="0.014" stroke="#555" stroke-width="0.4" stroke-opacity="0.85"><path d="M324.5 254.9l-14 -1.2l-5 -1l-6 -2.8l-5.2 -4.6l-4.6 -7.5l-2.9 -9l-0.7 -9l1.2 -9l1.5 -4.5l2.4 -4.5l2.8 -3.5l4 -3.2l9.2 -5.3l12.8 -9.1l10.5 -5.7l8.5 -3l3.5 -0.3l3.5 0.4l3 1.5l1.8 2.2l0.6 2.5l-0.4 3.5l-4.1 9.5l-3.6 18l-6.1 17.5l-1.4 13l-1.4 5.5l-1.9 4l-2.5 3l-2.5 1.8l-3 0.8z"/><path d="M325 249.9l-4.5 0.4l-12 -1l-5 -2.1l-4.1 -3.4l-4.2 -6.5l-4.1 -10l-1.1 -7.5l0.9 -7.5l3 -7l2.5 -3l2.6 -2.2l12.2 -6.8l20.8 -16.2l6.5 -2.7l3 -0.4l3 0.3l2 0.8l1.6 1.7l0.8 2l-0.2 3l-5.1 10.5l-1.3 10.5l-1.5 7l-6.7 16.5l-1.4 12l-0.9 4l-2.8 5l-4 2.6z"/><path d="M323.5 247.3l-9 0.1l-5 -0.5l-4 -1.6l-3.5 -3l-6 -10.3l-2.7 -6.2l-1 -6.5l0.8 -6.5l1.9 -4.6l3.1 -3.9l3.4 -2.4l9 -4.3l6.9 -4.8l3.1 -2.8l6.1 -7.2l3.9 -3.5l4 -2.4l3.5 -1.3l3 -0.5l3 0.3l2 1.1l1.3 1.8l0.4 2l-0.5 2.5l-5.3 10l-1.1 11l-2 8l-6.8 13.5l-1.1 11.5l-1 4.5l-2.5 4l-3.9 2z"/><path d="M323.5 245.4l-12.5 0l-3.5 -1.1l-3.3 -2.5l-2.1 -3l-7.3 -13.5l-1.1 -6l0.8 -6l2 -4.5l3.5 -3.7l11.5 -5.5l8 -5.5l2 -2.3l4.3 -7l4.7 -4.7l6.5 -3.5l3.5 -0.8l3 0.3l2 1.1l1 1.4l0.4 1.7l-0.3 2.5l-5.8 10.5l-0.9 11l-2.2 8l-2.2 4.4l-4.6 5.6l-1 2l-0.2 11l-1 5l-2.2 3.4l-3 1.7zM317 227.8l1.6 -1l1.6 -2l1 -2.5l-0.2 -1.2l-1 -0.2l-2 0.8l-2.5 2.6l-0.4 2.5l0.9 1l1 -0z"/><path d="M323.5 244.3l-3.5 0.4l-8.5 -0.2l-3.5 -1.1l-2.8 -2.1l-9.7 -16.5l-1 -5.5l0.7 -6l2.3 -4.5l3 -3.1l11.5 -5.1l8.5 -5.6l5.4 -9.7l5.1 -5.3l6.5 -3.4l3 -0.5l3 0.3l1.6 0.9l1.1 1.5l0.2 3.5l-1.2 3l-4.9 8l-1.1 13l-1.5 5l-2.2 4.3l-3.5 3.9l-3 1l-1 -0.8l-2.5 -5.2l-1 -0.5l-1 0.3l-7.5 6.3l-3.1 5.2l0.1 3l1 1l2 0.6l2.9 -1.1l5.6 -5l2 -0.4l1 1l1.4 6.9l-0.3 6l-2 4.5l-3.1 2z"/><path d="M323 243.4l-11 0.2l-3 -0.9l-2.6 -1.9l-4.1 -7.5l-4.3 -5.5l-1.8 -3.5l-1 -5l0.7 -5.5l2.1 -4.4l3 -2.9l11.5 -4.6l9.2 -5.6l1 -1.5l1.6 -5.5l1.4 -3l2.2 -3l3.1 -2.9l6 -3.3l3 -0.7l3 0.3l1.5 0.7l1.3 1.4l0.3 3.5l-1.5 3.5l-4.7 7.5l-1 12.5l-1.4 4.8l-2 4.1l-3 3.2l-2.5 0.3l-1.5 -1.8l-2.5 -5.5l-1 -0.7l-1 0.3l-9 9.1l-3.8 6.7l-0.4 2.5l0.6 1.5l1.6 1.4l2 0.5l3.5 -0.7l5.5 -4l1.5 -0.1l1.2 0.9l1.3 4.3l-0.2 5.2l-1.8 3.7l-3 1.9z"/><path d="M323 242.3l-10.5 0.3l-2.8 -0.8l-2.2 -1.6l-1.5 -2.3l-1.9 -5.1l-5 -5l-2.1 -3.5l-1.2 -5l0.7 -5.5l2.5 -4.5l3.5 -2.8l9.6 -3.2l7.9 -3.7l4.5 -1.2l-0 -8.1l1.3 -3.5l2.4 -3.5l3.8 -3.4l4 -2.3l4 -1l3 0.3l2.4 1.9l0.4 3.5l-1.1 3l-5.4 8.5l-0.7 11.5l-1.2 4.5l-1.9 4l-2.5 2.7l-1.5 0.5l-1 -0.2l-1.5 -2l-3 -8l-0.5 -0.5l-1 0.1l-10.5 12.6l-4.7 8.8l-0.2 2.5l0.8 1.5l4.6 1.8l3.5 -0.5l6 -3.7l2 0.7l1.2 3.2l-0.2 4.2l-1.5 3.1l-2.5 1.7z"/><path d="M333 215.9l-1.5 0.3l-1 -0.4l-1.8 -3.5l-1.6 -7.5l0.6 -6.5l-2.7 -4.2l-0.1 -4.3l2.3 -5l4.8 -4.7l5.5 -2.8l5 -0.3l2.7 1.8l0.6 2l-0.2 2l-1.4 3l-5 7.5l-0.4 2l0 7l-0.9 5l-2.2 5.5l-2.7 3.1zM306 231l-2 -0.4l-3 -1.9l-2 -2.1l-1.7 -2.8l-1 -6l1.5 -6l2.3 -3l3.4 -2.2l9 -2.5l6.5 -2.5l2.5 -0l0.9 0.7l0.3 1.5l-1.1 3.5l-8.1 11.2l-6.5 11.6l-1 0.9zM321.5 241.8l-8.2 -0l-3.3 -0.9l-2.5 -2.6l-0.6 -2l0.3 -2l1.3 -0.8l5.5 1.2l2.5 -0l2.5 -1l4 -2.6l2 -0.1l1.5 2.7l-0.2 4.1l-1.8 2.8l-3 1.2z"/><path d="M332 215.4l-2 -1.5l-1.2 -3.6l-0.7 -5.5l0.9 -7l-3.5 -4.5l-0.4 -2l0.4 -2.5l2.7 -5l4.3 -3.9l5 -2.5l5 -0.2l1.5 0.7l1.2 1.4l0.2 3.5l-1.6 3.5l-5.1 7.5l-0.3 9.5l-1.8 7l-2.1 3.6l-2.5 1.5zM305 228.9l-2 -0.2l-2 -1.1l-2 -2l-1.4 -2.8l-0.8 -5.5l1.7 -5.5l2.5 -2.9l3.5 -1.9l12.5 -2.7l2 0.3l0.6 1.7l-1.5 3.5l-10.1 16.4l-1.5 1.8l-1.5 0.9zM323 240.3l-2.5 0.4l-8.3 -0.4l-2 -1l-0.9 -2l0.7 -1l1 -0.3l6 0.1l5.5 -3.3l1.5 -0.3l1.4 1.3l0.3 2.5l-0.9 2.5l-1.8 1.5z"/><path d="M332.5 214.4l-1.5 -0.6l-1.5 -3l-0.6 -6l1 -7.5l-3.9 -4.3l-0.5 -1.7l0.3 -2.5l2.2 -4.5l4.5 -4.3l5.5 -2.6l4.5 -0.1l2.5 2l0.2 3.5l-1.6 3.5l-5.3 7.5l-0.1 8.5l-0.9 5l-2.3 5.2l-2.5 1.9zM304.5 227.4l-1.5 -0l-2 -1l-1.6 -1.6l-1.3 -2.5l-0.7 -5l1.2 -4.5l2.4 -3l3.5 -2l5 -0.8l5.2 0.3l1 1l-0.1 1.5l-2.2 5.5l-5.4 9.2l-2 2.2l-1.5 0.7zM323 238.4l-2 0.4l-1 -1l1 -1.6l2 -1.1l1 1.2l-1 2.1z"/><path d="M333.5 212.5l-1 0.2l-1.2 -0.9l-1.2 -4l-0 -4l1.4 -7l-0.5 -1l-4.3 -3.5l-0.5 -2l0.2 -2l2.4 -4.5l4.2 -3.8l5 -2.2l4 -0.2l2.5 1.7l0.3 3.5l-1.6 3.5l-5.9 8l-0.3 1.5l0.6 5.5l-0.4 4l-1.7 4.9l-2 2.3zM304.5 224.9l-2.5 -0.2l-2.4 -2.4l-1 -3.5l0.3 -3.5l1.5 -3l2.1 -2l3 -1.1l3.5 0.1l1.5 0.6l1 1.3l-0.1 3.6l-3.4 7l-1.7 2l-1.8 1.1z"/><path d="M334.5 196.1l-5.5 -2.7l-1.5 -1.4l-0.7 -2.7l0.9 -3l2.8 -3.9l4 -3l4.5 -1.5l3.5 0.3l1.4 1.1l0.6 1.2l-0.5 3.8l-2.5 3.9l-7 7.9zM333.5 210.5l-1 -0.1l-0.7 -1.1l-0.6 -4.5l1.1 -4.5l2.2 -3.7l1.9 2.7l0.3 4l-1.2 4.8l-2 2.4zM303.5 222.3l-1.5 -0.5l-1.3 -1.5l-0.5 -2l0.3 -2.5l1 -2.1l1.5 -1.4l1.5 -0.6l2 -0l2 1.6l-0.1 3.5l-2.1 4l-2.8 1.5z"/><path d="M334 193.8l-3.5 -0.6l-2.5 -1.9l-0.5 -2.5l1.2 -3.5l2.9 -3.5l3.9 -2.5l4 -1.1l3 0.5l1.2 1.1l0.5 1.5l-1.1 4l-5.1 6.1l-2 1.6l-2 0.8zM334 206.9l-0.9 -0.6l-0.2 -2l0.6 -1.9l1 -0.9l0.7 2.3l-1.2 3.1z" stroke="#333" stroke-width="0.6"/><path d="M334 190.3l-2 -0.3l-1.3 -1.2l-0.2 -2l1.2 -2.5l2.3 -2.3l2.5 -1.3l2.5 -0.5l1.9 0.6l0.7 1l0.1 1.5l-1.4 3l-2.8 2.6l-3.5 1.4z" stroke="#333" stroke-width="0.6"/></g><path fill="#888" d="M292.2 198.7h.65v.65h-.65zM297.4 196.2h.65v.65h-.65zM292.7 194.3h.65v.65h-.65zM288.7 207.9h.65v.65h-.65zM290.5 186.3h.65v.65h-.65zM293.6 222.2h.65v.65h-.65zM289.4 230.3h.65v.65h-.65zM290.6 212.2h.65v.65h-.65zM294.0 221.6h.65v.65h-.65zM287.2 208.0h.65v.65h-.65zM289.2 249.6h.65v.65h-.65zM298.4 209.0h.65v.65h-.65zM298.0 221.8h.65v.65h-.65zM292.8 180.5h.65v.65h-.65zM295.6 213.3h.65v.65h-.65zM288.5 210.8h.65v.65h-.65zM289.8 199.9h.65v.65h-.65zM294.3 201.9h.65v.65h-.65zM291.5 204.5h.65v.65h-.65zM292.2 213.4h.65v.65h-.65zM296.6 225.8h.65v.65h-.65zM288.7 218.4h.65v.65h-.65zM292.0 208.3h.65v.65h-.65zM285.2 204.7h.65v.65h-.65zM297.7 226.9h.65v.65h-.65zM294.9 209.4h.65v.65h-.65zM296.5 236.5h.65v.65h-.65zM289.1 203.2h.65v.65h-.65zM291.1 189.8h.65v.65h-.65zM293.3 221.2h.65v.65h-.65zM300.1 199.3h.65v.65h-.65zM285.7 204.8h.65v.65h-.65zM295.6 201.4h.65v.65h-.65zM291.3 211.6h.65v.65h-.65zM296.3 216.0h.65v.65h-.65zM292.2 219.3h.65v.65h-.65zM284.1 226.6h.65v.65h-.65zM297.3 231.7h.65v.65h-.65zM291.4 229.3h.65v.65h-.65zM293.4 176.3h.65v.65h-.65zM291.7 208.4h.65v.65h-.65zM295.3 175.6h.65v.65h-.65zM287.9 204.8h.65v.65h-.65zM299.6 194.8h.65v.65h-.65zM293.6 219.7h.65v.65h-.65zM293.1 187.4h.65v.65h-.65zM293.1 219.1h.65v.65h-.65zM292.6 195.6h.65v.65h-.65zM288.7 208.9h.65v.65h-.65zM301.4 198.8h.65v.65h-.65zM316.5 188.9h.65v.65h-.65zM302.7 197.8h.65v.65h-.65zM304.2 199.9h.65v.65h-.65zM327.1 189.7h.65v.65h-.65zM309.6 196.6h.65v.65h-.65zM311.6 190.4h.65v.65h-.65zM295.4 195.3h.65v.65h-.65zM328.0 189.3h.65v.65h-.65zM311.8 189.8h.65v.65h-.65zM313.3 186.4h.65v.65h-.65zM326.6 193.4h.65v.65h-.65zM302.9 195.7h.65v.65h-.65zM308.5 191.4h.65v.65h-.65zM303.7 182.8h.65v.65h-.65zM312.9 192.7h.65v.65h-.65zM315.7 187.1h.65v.65h-.65zM301.6 199.7h.65v.65h-.65zM297.2 193.8h.65v.65h-.65zM334.1 190.4h.65v.65h-.65zM330.2 246.0h.65v.65h-.65zM338.4 237.5h.65v.65h-.65zM334.1 242.3h.65v.65h-.65zM331.4 238.9h.65v.65h-.65zM313.8 238.1h.65v.65h-.65zM337.6 238.1h.65v.65h-.65zM329.2 244.5h.65v.65h-.65zM322.2 232.8h.65v.65h-.65zM316.6 239.6h.65v.65h-.65zM334.3 243.0h.65v.65h-.65zM327.6 246.9h.65v.65h-.65zM326.6 247.3h.65v.65h-.65zM330.7 240.4h.65v.65h-.65zM322.5 235.7h.65v.65h-.65zM327.0 241.5h.65v.65h-.65zM328.9 243.9h.65v.65h-.65zM332.7 240.8h.65v.65h-.65zM329.9 245.2h.65v.65h-.65zM335.2 251.7h.65v.65h-.65zM344.5 241.2h.65v.65h-.65zM327.1 241.7h.65v.65h-.65zM338.2 239.7h.65v.65h-.65zM332.0 235.6h.65v.65h-.65zM331.7 243.3h.65v.65h-.65z"/></g>
<line x1="307.5" y1="164.8" x2="307.5" y2="256.3" stroke="#333" stroke-width="1.0"/>
<line x1="274.5" y1="205.5" x2="366.35" y2="205.5" stroke="#333" stroke-width="1.0"/>
<rect x="274.5" y="164.8" width="91.85000000000002" height="91.5" fill="none" stroke="#111" stroke-width="1.1"/>
<rect x="276.2" y="167.5" width="12.0" height="7.6" fill="#fff"/>
<text x="277.0" y="174.10000000000002" font-size="8.4" textLength="10.63" lengthAdjust="spacingAndGlyphs" fill="#1a1a1a" stroke="#1a1a1a" stroke-width="0.08">1.3</text>
<rect x="354.4" y="167.5" width="9.9" height="7.6" fill="#fff"/>
<text x="363.75" y="174.10000000000002" font-size="8.4" text-anchor="end" textLength="8.51" lengthAdjust="spacingAndGlyphs" fill="#1a1a1a" stroke="#1a1a1a" stroke-width="0.08">58</text>
<rect x="276.2" y="246.5" width="15.7" height="7.6" fill="#fff"/>
<text x="277.0" y="253.10000000000002" font-size="8.4" textLength="14.32" lengthAdjust="spacingAndGlyphs" fill="#1a1a1a" stroke="#1a1a1a" stroke-width="0.08">11.8</text>
<rect x="348.1" y="246.5" width="16.3" height="7.6" fill="#fff"/>
<text x="363.75" y="253.10000000000002" font-size="8.4" text-anchor="end" textLength="14.89" lengthAdjust="spacingAndGlyphs" fill="#1a1a1a" stroke="#1a1a1a" stroke-width="0.08">28.9</text>
<clipPath id="c10"><rect x="381.5" y="165.4" width="90.3" height="90.3"/></clipPath><g clip-path="url(#c10)"><g fill="#000" fill-opacity="0.014" stroke="#555" stroke-width="0.4" stroke-opacity="0.85"><path d="M399.4 249.4l-1 -0l-1 -0.9l-1.9 -4.2l-1.4 -6.5l-0.7 -9l0 -9.5l0.8 -9l1.4 -6l1.8 -3.6l1.5 -1.2l3 0.3l1.5 -0.6l6 -6.4l4.5 -3.8l7 -4.5l8 -4.1l9 -3.9l7.5 -2.5l5.5 -0.9l3.5 0.7l1.1 2l-1.2 3.5l-9 10.5l-1.5 2.5l-0.1 2l1.9 10l0.2 6.5l-1.1 6l-2.3 4.5l-4 3.7l-4.5 1.5l-4.5 -0.3l-7 -2.7l-7.5 0.8l-2.5 -0.9l-2 -1.6l-4.5 -6.4l-0.8 2.4l-0.8 15.5l-1 7.5l-1.8 6l-2.1 2.6z"/><path d="M434.9 223.4l-2.5 0.3l-3 -0.6l-7.5 -3.9l-6 1.1l-3 -1l-2.8 -3.5l-2.2 -6.9l-3.2 -4.1l0 -2l2.4 -4.5l3.8 -4.3l5.5 -4.5l7 -4.6l8.5 -4.4l8.5 -3.5l6 -1.5l4 0.2l1 0.7l0.5 1.4l-1.4 3.5l-12 13.5l0.1 2l2.6 5l1.3 4l0.5 7l-0.8 3.5l-2 3.5l-2.3 2.2l-3 1.4zM399.4 243.5l-1 -0.1l-1 -1.1l-1.5 -4l-1 -6.5l-0.3 -8l0.6 -8l1.1 -6.5l1.6 -3.5l2 -1.1l1.5 0.9l0.7 1.7l1.2 18l-1.2 12.5l-1.2 3.8l-1.5 1.9z"/><path d="M433.9 221.9l-2.5 0l-2.5 -0.8l-7 -4.9l-5.5 1.4l-3 -1l-2 -2.8l-1.7 -6l-2.6 -3.5l-0.1 -3l1.9 -3.5l3.6 -4l5.4 -4.3l7 -4.5l7.5 -4l7 -2.8l5.5 -1.3l3.5 0.1l1.2 0.8l0.3 1l-1.4 3.5l-13.3 14l0 1.5l3.4 4l1.9 3.5l0.9 3l0.2 3.5l-0.7 3.5l-1.5 3l-2.5 2.4l-3 1.2zM398.9 239.8l-1.4 -1.5l-1 -3l-1 -10.5l1 -10.5l1.1 -3.5l1.3 -1.7l1.5 1.2l1 3.4l1 10.6l-1 11l-1 3.1l-1.5 1.4z"/><path d="M434.4 220.5l-3 0.1l-2.5 -0.9l-7 -6.5l-5 1.9l-2.5 -0.4l-1.7 -2.4l-1.6 -5.5l-2.8 -3.5l-0 -2.5l1.9 -3.5l3.3 -3.5l11.4 -8.2l6.5 -3.5l7 -2.9l5 -1.3l3.5 -0l1.3 0.9l0.2 1l-1.5 3.5l-14.6 14.5l0.4 1.5l3.2 2.2l2.5 2.8l1.4 3l0.6 3l-0.2 3.5l-1.2 3l-2.1 2.4l-2.5 1.3zM399.4 236.6l-1 -0.1l-1.1 -2.2l-1.1 -8.5l0.7 -8.7l1 -3.3l1 -1l1 0.7l1 2.8l0.8 7.5l-0.6 8.5l-1.7 4.3z"/><path d="M434.9 219.4l-3 0.4l-2.5 -0.8l-2.1 -1.7l-2.3 -3l-2.3 -6l2.5 -5.5l-0.2 -0.5l-2.1 0.7l-1.8 1.3l-0.3 4l-0.7 1.5l-2.1 2.5l-2.1 0.7l-1.9 -1.7l-1.6 -5l-3 -3l-0.2 -3l1.7 -3l3.5 -3.7l11 -8l12.5 -5.9l4.5 -1.2l3.5 -0l1.4 0.8l0.2 1l-2 4l-4.6 4.8l-10.2 8.7l-1.9 2.5l4.1 1.1l2.5 1.2l2.2 2.2l1.5 3l0.6 3.5l-0.6 3.5l-1.7 2.8l-2.5 1.8zM398.9 234.3l-1.5 -2.8l-0.6 -6.7l0.6 -6.6l1.5 -2.9l1 0.9l0.5 1.6l0.7 7l-0.7 7.1l-1.5 2.4z"/><path d="M416.9 210l-1.3 -0.2l-1.4 -3.5l-3.3 -2.4l-1.2 -1.6l0.4 -3l2.9 -4l8.4 -6.9l10 -5.8l9.5 -3.5l3.5 -0.4l1.9 0.6l0.6 1l-0.3 1.5l-3.2 4.5l-14 11.8l-9.9 5.7l-1.6 2l-0.3 3l-0.7 1.2zM434.4 218.8l-3 0.2l-2.5 -1.2l-2.4 -2.5l-1.4 -3l-0.6 -3l0.7 -3l1.8 -2.5l2.4 -1.5l3 -0.1l2.5 1l2.2 2.1l1.5 3l0.5 3.5l-0.7 3l-1.6 2.5l-2.4 1.5zM398.9 232.3l-1.1 -2l-0.5 -5.5l0.5 -5.5l1.1 -1.9l1.2 1.9l0.6 5.5l-0.6 5.5l-1.2 2z"/><path d="M415.4 204.4l-2 -0.2l-2 -1.1l-0.9 -1.3l-0.1 -1.5l2.2 -4l4.8 -4.5l8 -5.6l9 -4.6l7 -2.2l2.5 -0.1l1.6 0.5l0.4 2l-1.3 2.5l-7.7 7.5l-9.5 6.9l-12 5.7zM434.4 217.9l-2.5 0.3l-2.3 -0.9l-2 -2l-1.3 -2.5l-0.4 -3l0.5 -2.5l1.5 -2.3l2 -1.3l2.5 -0.2l2.5 1l1.8 1.8l1.2 2.5l0.4 3l-0.5 2.5l-1.4 2.2l-2 1.4zM398.9 228.7l-0.8 -3.9l0.8 -3.7l0.6 0.7l0.3 3l-0.3 3l-0.6 0.9z"/><path d="M415.9 202.8l-2 0l-1.5 -0.6l-0.9 -1.4l0.1 -1.5l2.6 -4l5.2 -4.7l7.5 -4.9l8.5 -4.1l6.5 -1.7l2 0.2l0.9 0.7l-0.1 2l-2 3l-8.3 7.4l-7.5 4.9l-11 4.7zM433.4 216.9l-2 -0.1l-1.8 -1l-1.5 -2l-0.6 -2l-0 -2.5l0.8 -2l1.5 -1.5l1.6 -0.5l2 0.2l1.5 0.8l1.5 1.9l0.7 2.1l-0 2.5l-0.7 1.8l-1.5 1.7l-1.5 0.6z"/><path d="M417.4 201.4l-2 0.3l-1.8 -0.4l-0.9 -1l0.1 -1.5l2.2 -3.5l5.4 -4.9l6.5 -4.3l7.5 -3.7l6 -1.7l2 0l1.2 0.6l0.2 1.5l-1.4 2.5l-7 6.6l-8.5 5.6l-9.5 3.9zM433.9 214.9l-2.5 0.1l-2 -2.2l-0 -3.5l2 -1.9l2.5 0.4l1.5 2l0.1 3l-1.6 2.1z"/><path d="M418.4 200.3l-3.5 0.2l-0.9 -0.7l-0.1 -1.5l2.2 -3.5l4.8 -4.3l6 -4l7 -3.5l5.5 -1.6l3 0.5l0.3 1.4l-1.4 2.5l-6.4 5.9l-8 5.2l-8.5 3.4z"/><path d="M418.9 198.8l-2.5 -0.4l0.1 -2.1l2.3 -3l4.6 -3.8l5.5 -3.4l5.5 -2.5l4 -1l2.2 0.7l-0.1 1.5l-1.3 2l-5.8 5.2l-7.5 4.5l-7 2.3z"/><path d="M420.4 197.3l-1.9 -0.5l0.1 -1.5l1.9 -2.5l3.6 -3l8.8 -4.9l3.5 -0.9l2.1 0.3l0.2 1l-1.1 2l-5.1 4.5l-6.6 3.8l-5.5 1.7z"/><path d="M422.4 195.8l-1.5 -0.2l-0.1 -1.3l4.5 -4.5l7.6 -4l2.5 -0.5l1.2 0.5l-1.1 2.5l-3.6 3.1l-5 2.9l-4.5 1.5z"/><path d="M423.9 194.3l-1 -0.5l0.4 -1l3.2 -3l4.9 -2.6l2 -0.4l1 0.4l-0.7 1.6l-2.9 2.5l-3.5 2l-3.4 1z" stroke="#444" stroke-width="0.5"/></g><path fill="#888" d="M424.2 244.5h.65v.65h-.65zM421.7 242.1h.65v.65h-.65zM418.0 237.8h.65v.65h-.65zM438.7 236.3h.65v.65h-.65zM416.7 240.7h.65v.65h-.65zM420.8 238.0h.65v.65h-.65zM432.6 240.6h.65v.65h-.65zM410.4 237.9h.65v.65h-.65zM422.0 239.4h.65v.65h-.65zM412.4 248.5h.65v.65h-.65zM420.7 233.1h.65v.65h-.65zM412.6 233.8h.65v.65h-.65zM415.0 234.7h.65v.65h-.65zM437.5 242.8h.65v.65h-.65zM425.6 245.2h.65v.65h-.65zM425.1 242.4h.65v.65h-.65zM419.3 240.8h.65v.65h-.65zM425.4 244.6h.65v.65h-.65zM429.5 246.6h.65v.65h-.65zM417.1 234.9h.65v.65h-.65zM437.4 251.9h.65v.65h-.65zM407.0 241.4h.65v.65h-.65zM411.5 235.9h.65v.65h-.65zM406.1 242.6h.65v.65h-.65zM414.1 246.4h.65v.65h-.65zM426.9 234.5h.65v.65h-.65zM412.4 223.7h.65v.65h-.65zM416.6 244.9h.65v.65h-.65zM431.0 248.3h.65v.65h-.65zM416.9 240.0h.65v.65h-.65zM417.1 241.7h.65v.65h-.65zM411.0 246.6h.65v.65h-.65zM418.3 235.4h.65v.65h-.65zM415.3 244.6h.65v.65h-.65zM427.0 249.1h.65v.65h-.65zM413.3 250.9h.65v.65h-.65zM423.1 236.2h.65v.65h-.65zM420.7 232.1h.65v.65h-.65zM425.9 252.1h.65v.65h-.65zM420.4 240.0h.65v.65h-.65zM431.4 248.4h.65v.65h-.65zM424.4 247.4h.65v.65h-.65zM432.6 247.7h.65v.65h-.65zM424.4 237.1h.65v.65h-.65zM411.5 244.8h.65v.65h-.65zM426.8 246.3h.65v.65h-.65zM423.5 234.2h.65v.65h-.65zM407.7 249.9h.65v.65h-.65zM407.4 240.1h.65v.65h-.65zM435.5 250.2h.65v.65h-.65zM418.6 245.7h.65v.65h-.65zM433.3 242.2h.65v.65h-.65zM422.6 243.4h.65v.65h-.65zM413.9 238.1h.65v.65h-.65zM416.5 243.7h.65v.65h-.65zM433.7 239.2h.65v.65h-.65zM446.0 243.7h.65v.65h-.65zM435.4 246.5h.65v.65h-.65zM391.7 228.3h.65v.65h-.65zM398.7 233.8h.65v.65h-.65zM388.1 231.9h.65v.65h-.65zM396.5 213.7h.65v.65h-.65zM391.6 235.7h.65v.65h-.65zM388.0 219.6h.65v.65h-.65zM391.5 208.2h.65v.65h-.65zM392.8 227.5h.65v.65h-.65zM391.9 234.5h.65v.65h-.65zM401.3 242.2h.65v.65h-.65zM401.0 239.1h.65v.65h-.65zM392.1 223.5h.65v.65h-.65zM389.3 225.1h.65v.65h-.65zM394.1 198.4h.65v.65h-.65zM389.4 224.8h.65v.65h-.65zM390.4 213.7h.65v.65h-.65zM398.3 214.6h.65v.65h-.65zM395.4 218.3h.65v.65h-.65zM393.4 234.5h.65v.65h-.65zM393.7 214.5h.65v.65h-.65zM390.5 216.9h.65v.65h-.65zM398.6 214.3h.65v.65h-.65zM392.9 208.6h.65v.65h-.65zM395.1 236.7h.65v.65h-.65zM391.3 229.9h.65v.65h-.65zM390.7 223.1h.65v.65h-.65zM388.6 230.5h.65v.65h-.65zM395.6 235.4h.65v.65h-.65zM393.3 224.8h.65v.65h-.65z"/></g>
<line x1="413.5" y1="164.8" x2="413.5" y2="256.3" stroke="#333" stroke-width="1.0"/>
<line x1="380.9" y1="205.5" x2="472.4" y2="205.5" stroke="#333" stroke-width="1.0"/>
<rect x="380.9" y="164.8" width="91.5" height="91.5" fill="none" stroke="#111" stroke-width="1.1"/>
<rect x="382.6" y="167.5" width="12.0" height="7.6" fill="#fff"/>
<text x="383.4" y="174.10000000000002" font-size="8.4" textLength="10.63" lengthAdjust="spacingAndGlyphs" fill="#1a1a1a" stroke="#1a1a1a" stroke-width="0.08">1.3</text>
<rect x="454.1" y="167.5" width="16.3" height="7.6" fill="#fff"/>
<text x="469.79999999999995" y="174.10000000000002" font-size="8.4" text-anchor="end" textLength="14.89" lengthAdjust="spacingAndGlyphs" fill="#1a1a1a" stroke="#1a1a1a" stroke-width="0.08">74.4</text>
<rect x="382.6" y="246.5" width="16.3" height="7.6" fill="#fff"/>
<text x="383.4" y="253.10000000000002" font-size="8.4" textLength="14.89" lengthAdjust="spacingAndGlyphs" fill="#1a1a1a" stroke="#1a1a1a" stroke-width="0.08">9.91</text>
<rect x="454.1" y="246.5" width="16.3" height="7.6" fill="#fff"/>
<text x="469.79999999999995" y="253.10000000000002" font-size="8.4" text-anchor="end" textLength="14.89" lengthAdjust="spacingAndGlyphs" fill="#1a1a1a" stroke="#1a1a1a" stroke-width="0.08">14.3</text>
<line x1="263.5" y1="170.0" x2="263.5" y2="226.3" stroke="#111" stroke-width="1.0"/>
<path d="M260.40,171.60 L263.50,165.00 L266.60,171.60 Z" fill="#111"/>
<text transform="translate(267.1,241.8) rotate(-90)" text-anchor="middle" font-size="11" font-weight="bold" textLength="13.0" lengthAdjust="spacingAndGlyphs" fill="#151515" stroke="#151515" stroke-width="0.2">CD5</text>
<text x="279.5" y="269.7" font-size="11" font-weight="bold" textLength="13.2" lengthAdjust="spacingAndGlyphs" fill="#151515" stroke="#151515" stroke-width="0.2">CD7</text>
<line x1="299.2" y1="265.9" x2="466.4" y2="265.9" stroke="#111" stroke-width="1.0"/>
<path d="M464.80,262.80 L471.40,265.90 L464.80,269.00 Z" fill="#111"/>
<clipPath id="c11"><rect x="275.1" y="277.3" width="90.65000000000002" height="90.20000000000003"/></clipPath><g clip-path="url(#c11)"><g fill="#000" fill-opacity="0.014" stroke="#555" stroke-width="0.4" stroke-opacity="0.85"><path d="M337.5 363.8l-4.5 0.4l-4 -0.6l-12 -5l-15.1 -2.4l-8.9 -0.2l-4 -1.1l-3.6 -2.2l-2.6 -3.5l-0.8 -3.5l0.7 -3.5l3.3 -4.1l5.5 -2.5l4 -0.3l9 0.7l13 -2.1l7 -5.1l5.5 -6.6l2.5 -2.2l3 -1.2l3.5 0.4l3 2.1l2.7 3.9l6.6 14l1.1 7l-1.3 6l-3.3 5.5l-4.3 3.7l-6 2.4z"/><path d="M334.5 360.7l-6 -0.9l-9.5 -4.1l-8.5 -0.7l-8 -1.7l-7.5 0.3l-4 -0.7l-3 -1.6l-2 -2.1l-0.9 -2.5l0.2 -3l0.9 -2l1.8 -1.9l4.5 -1.9l4 -0.1l7.5 1.1l15.2 -2.2l7 -5l6.8 -7.6l2.5 -1.2l2.5 0.2l2 1.2l1.9 2.4l5.2 11l1.6 5l0.2 4.5l-1.5 5l-3.3 4.5l-4.6 2.9l-5 1.1z"/><path d="M336.5 358.7l-3 0.3l-3.5 -0.5l-10.5 -4.5l-8.5 -0.4l-8.5 -2l-7 0.7l-3.5 -0.5l-2.5 -1.2l-1.9 -1.9l-0.9 -2l0.1 -2.5l2.2 -3.3l4 -1.7l3.5 -0.1l7.5 1.5l16 -2.3l7 -5.1l6.5 -6.9l2 -0.9l2 0l2.4 1.8l1.9 3l4.5 10l0.9 5.5l-0.8 4.5l-2.4 4l-3.5 3l-4 1.5z"/><path d="M335 357.7l-5.5 -0.6l-9.5 -4.4l-9 -0.3l-8 -2.2l-7 1l-3.5 -0.3l-2.5 -1.2l-1.4 -1.5l-0.8 -2l0.2 -2l2 -2.7l3.5 -1.4l3.5 0.1l7 1.8l7 -1.5l9 -0.8l2.5 -1.3l4.6 -3.7l6.9 -6.8l3 -0.7l1.5 0.8l1.5 1.7l3.7 7.5l1.9 5l0.4 4l-1.1 4.5l-2.4 3.4l-3.5 2.5l-4 1.1z"/><path d="M335.5 356.8l-3 0.1l-3 -0.7l-8.5 -4.3l-10 -0.3l-7.5 -2.7l-7 1.5l-3.5 -0.2l-3.3 -2l-0.7 -1.5l-0.1 -2l1.7 -2.5l3.4 -1.3l3.5 0.4l6 2.2l7.5 -2l9.5 -0.7l3 -1.9l10.5 -9.2l1.5 -0.8l1.5 0.1l2.5 2.1l3.7 7.1l1.5 4l0.4 4l-0.8 3.5l-2.2 3.5l-3.1 2.4l-3.5 1.2z"/><path d="M336.5 355.8l-3 0.4l-3.5 -0.6l-9.5 -4.8l-7 0.2l-3.5 -0.5l-6.5 -3.7l-6 2.6l-4 0.2l-3.1 -1.9l-0.7 -1.5l0.1 -1.5l1.4 -2l2.8 -1.1l4.1 0.6l5.4 3.3l7 -3.2l10 -0.6l2.5 -1.4l11 -9.4l2.5 -0.7l2.2 1.5l2.8 4.6l2.2 4.9l0.7 4l-0.5 3.5l-1.5 3l-2.5 2.5l-3.4 1.6z"/><path d="M336.5 355.2l-3 0.4l-3.5 -0.6l-9.5 -5.2l-7 0.5l-3 -0.4l-3.1 -1.7l-1 -2l1.7 -2l2.9 -1.2l8 -0l2 -0.5l12.5 -10.1l3 -0.9l2 1.3l2.8 4.4l2 4.5l0.5 3.5l-0.5 3.5l-1.6 3l-2.2 2.1l-3 1.4zM297 348.8l-3 0.2l-2.5 -1.2l-1.1 -2.1l0.8 -2l1.8 -1.3l2 -0.3l4.1 1.6l1.3 1.5l-0.1 1.5l-3.3 2.1z"/><path d="M336 354.7l-3 0.3l-3 -0.7l-9.5 -5.6l-6.5 0.8l-3 -0.4l-2.4 -1.4l-0.5 -1.5l1.1 -1.5l2.4 -1l7.4 0.3l2 -0.4l11.5 -9.6l2 -1.1l2 -0.2l2 1.4l2.9 4.6l1.4 3.5l0.5 3.5l-0.6 3l-1.7 2.9l-2.5 2.1l-2.5 1zM296.5 348.2l-2.5 0.1l-2 -1.1l-0.7 -1.5l0.7 -1.7l3 -1.1l3.3 1.3l0.7 2l-0.6 1l-1.9 1z"/><path d="M336 354.2l-3.5 0.2l-3.5 -1l-9.5 -7l-3.2 1.8l-2.8 0.4l-3 -0.8l-0.8 -1.6l1.3 -1.4l2.5 -0.5l6.5 1.7l10 -9.5l4 -2.6l2.5 -0.2l2 1.5l2.5 3.8l1.3 3.2l0.5 3.5l-0.6 3l-1.5 2.5l-2.2 1.9l-2.5 1.1zM296.5 347.3l-1.5 0.3l-1.8 -0.4l-0.8 -1l0.1 -1.5l2 -1.1l2.3 0.6l1 1.5l-1.3 1.6z"/><path d="M336 353.7l-3.5 0.3l-3.8 -1.3l-4.3 -3.5l-1.8 -3l1 -2.5l3.9 -4.5l5 -3.7l3 -1.1l2 0.8l2.5 3l1.7 3.5l0.6 3.5l-0.5 3l-1.3 2.5l-2 1.8l-2.5 1.2zM295.5 346.5l-1.5 -0.2l-0.2 -1.1l1.2 -0.4l1 0.4l-0.5 1.3zM314 347.3l-1.5 -0.2l-0.4 -0.9l1.4 -0.5l1.5 0.5l0.1 0.5l-1.1 0.6z"/><path d="M336 352.7l-3.5 0.3l-3.5 -1.3l-2.9 -2.5l-1.4 -3l0.6 -2.5l2.6 -3.5l3.6 -2.8l3.5 -1.3l2 0.6l2 2l1.6 3l0.7 3l-0.2 2.5l-1.1 2.5l-2 2l-2 1z"/><path d="M335 351.7l-3 -0l-2.5 -1.1l-2.4 -2.4l-0.7 -2.5l0.7 -2.5l2 -2.5l2.9 -2.1l2.5 -0.8l2 0.5l1.6 1.4l1.5 2.5l0.5 2.5l-0.2 2.5l-1 2l-1.9 1.7l-2 0.8z"/><path d="M335.5 350.3l-2 0.4l-2.5 -0.7l-2 -1.6l-1 -2.2l0.2 -2l1.2 -2l2.1 -1.8l2 -0.9l2 0.1l1.5 0.9l1.9 3.7l-0.5 3.5l-1.1 1.5l-1.8 1.1z"/><path d="M335 348.9l-1.5 0.3l-1.8 -0.5l-1.3 -1l-0.7 -1.5l0.8 -3l3 -2l2.5 0.7l1.4 2.3l-0.4 2.9l-2 1.8z"/></g><path fill="#888" d="M334.3 333.2h.65v.65h-.65zM306.5 323.4h.65v.65h-.65zM325.6 331.7h.65v.65h-.65zM319.8 317.6h.65v.65h-.65zM290.5 290.5h.65v.65h-.65zM314.5 334.7h.65v.65h-.65zM331.0 324.5h.65v.65h-.65zM343.7 322.1h.65v.65h-.65zM297.2 315.7h.65v.65h-.65zM315.3 319.4h.65v.65h-.65zM305.1 329.1h.65v.65h-.65zM324.5 323.5h.65v.65h-.65zM304.1 317.0h.65v.65h-.65zM329.9 318.2h.65v.65h-.65zM308.2 315.8h.65v.65h-.65zM312.4 315.5h.65v.65h-.65zM306.9 317.3h.65v.65h-.65zM344.3 310.0h.65v.65h-.65zM337.1 307.4h.65v.65h-.65zM324.0 303.1h.65v.65h-.65zM310.7 304.7h.65v.65h-.65zM311.8 310.5h.65v.65h-.65zM327.5 332.4h.65v.65h-.65zM325.5 319.0h.65v.65h-.65zM334.4 325.1h.65v.65h-.65zM280.1 316.5h.65v.65h-.65zM306.2 313.7h.65v.65h-.65zM309.8 324.2h.65v.65h-.65zM329.0 306.5h.65v.65h-.65zM308.6 329.9h.65v.65h-.65zM344.4 302.9h.65v.65h-.65zM294.7 326.5h.65v.65h-.65zM326.7 311.1h.65v.65h-.65zM303.2 326.8h.65v.65h-.65zM329.6 338.2h.65v.65h-.65zM306.1 330.4h.65v.65h-.65zM299.5 317.5h.65v.65h-.65zM314.4 296.4h.65v.65h-.65zM325.6 321.8h.65v.65h-.65zM318.1 320.0h.65v.65h-.65zM317.6 336.9h.65v.65h-.65zM303.3 319.4h.65v.65h-.65zM335.7 310.5h.65v.65h-.65zM331.3 310.6h.65v.65h-.65zM310.2 315.8h.65v.65h-.65zM297.0 300.1h.65v.65h-.65zM330.5 317.6h.65v.65h-.65zM312.6 313.2h.65v.65h-.65zM333.8 321.4h.65v.65h-.65zM281.0 311.2h.65v.65h-.65zM321.8 327.4h.65v.65h-.65zM305.5 323.3h.65v.65h-.65zM357.3 308.4h.65v.65h-.65zM323.2 320.8h.65v.65h-.65zM303.5 324.0h.65v.65h-.65zM313.2 312.8h.65v.65h-.65zM304.1 315.1h.65v.65h-.65zM293.6 309.6h.65v.65h-.65zM323.9 315.9h.65v.65h-.65zM294.6 304.1h.65v.65h-.65zM331.1 314.6h.65v.65h-.65zM333.0 320.6h.65v.65h-.65zM308.8 318.7h.65v.65h-.65zM321.3 327.2h.65v.65h-.65zM303.0 328.7h.65v.65h-.65zM320.7 306.2h.65v.65h-.65zM309.0 309.4h.65v.65h-.65zM327.6 315.0h.65v.65h-.65zM311.9 294.1h.65v.65h-.65zM317.7 310.6h.65v.65h-.65zM310.3 329.1h.65v.65h-.65zM324.7 325.8h.65v.65h-.65zM323.5 322.7h.65v.65h-.65zM310.4 304.2h.65v.65h-.65zM316.9 307.2h.65v.65h-.65zM315.1 327.3h.65v.65h-.65zM311.9 311.6h.65v.65h-.65zM338.3 321.0h.65v.65h-.65zM302.1 313.7h.65v.65h-.65zM315.4 325.4h.65v.65h-.65zM318.1 334.7h.65v.65h-.65zM298.3 301.1h.65v.65h-.65zM314.4 306.9h.65v.65h-.65zM325.3 329.7h.65v.65h-.65zM303.4 318.8h.65v.65h-.65zM313.3 312.9h.65v.65h-.65zM294.1 303.5h.65v.65h-.65zM315.3 305.2h.65v.65h-.65zM311.1 309.3h.65v.65h-.65zM288.5 315.1h.65v.65h-.65zM291.5 331.8h.65v.65h-.65zM338.6 325.1h.65v.65h-.65zM303.2 308.4h.65v.65h-.65zM301.2 319.0h.65v.65h-.65zM298.4 307.1h.65v.65h-.65zM335.6 325.7h.65v.65h-.65zM313.7 303.4h.65v.65h-.65zM323.5 308.0h.65v.65h-.65zM320.7 328.1h.65v.65h-.65zM327.2 337.6h.65v.65h-.65zM332.4 310.2h.65v.65h-.65zM321.7 322.6h.65v.65h-.65zM313.9 308.0h.65v.65h-.65zM335.9 307.1h.65v.65h-.65zM304.1 320.8h.65v.65h-.65zM308.3 320.5h.65v.65h-.65zM307.1 318.3h.65v.65h-.65zM296.2 311.5h.65v.65h-.65zM313.3 322.4h.65v.65h-.65zM307.0 295.7h.65v.65h-.65zM308.5 327.1h.65v.65h-.65zM337.4 319.0h.65v.65h-.65zM309.2 315.6h.65v.65h-.65zM291.8 327.3h.65v.65h-.65zM314.1 300.4h.65v.65h-.65zM315.5 323.2h.65v.65h-.65zM317.6 320.1h.65v.65h-.65zM294.7 321.4h.65v.65h-.65zM301.7 328.3h.65v.65h-.65zM324.0 323.0h.65v.65h-.65zM319.7 313.3h.65v.65h-.65zM318.1 318.4h.65v.65h-.65zM313.1 311.9h.65v.65h-.65zM305.5 327.9h.65v.65h-.65zM285.9 340.1h.65v.65h-.65zM312.0 300.6h.65v.65h-.65zM310.4 289.6h.65v.65h-.65zM315.1 319.3h.65v.65h-.65zM331.7 320.8h.65v.65h-.65zM301.4 323.7h.65v.65h-.65zM332.6 330.8h.65v.65h-.65zM299.5 329.5h.65v.65h-.65zM303.1 313.1h.65v.65h-.65zM299.3 326.6h.65v.65h-.65zM299.5 326.0h.65v.65h-.65zM341.8 322.8h.65v.65h-.65zM330.0 307.9h.65v.65h-.65zM330.1 340.1h.65v.65h-.65zM319.9 298.7h.65v.65h-.65zM311.2 331.1h.65v.65h-.65zM312.9 308.6h.65v.65h-.65zM322.6 302.2h.65v.65h-.65zM320.7 319.5h.65v.65h-.65zM332.0 303.0h.65v.65h-.65zM320.1 347.0h.65v.65h-.65zM300.8 316.5h.65v.65h-.65zM315.7 299.3h.65v.65h-.65zM307.5 298.3h.65v.65h-.65zM328.6 312.8h.65v.65h-.65zM315.7 310.8h.65v.65h-.65zM321.5 319.0h.65v.65h-.65zM332.5 304.4h.65v.65h-.65zM325.0 308.6h.65v.65h-.65zM300.6 326.3h.65v.65h-.65zM285.5 308.4h.65v.65h-.65zM344.3 314.9h.65v.65h-.65zM331.4 303.9h.65v.65h-.65zM316.4 314.1h.65v.65h-.65zM316.1 328.0h.65v.65h-.65zM316.9 322.3h.65v.65h-.65zM334.4 309.3h.65v.65h-.65zM333.7 321.3h.65v.65h-.65zM322.2 310.3h.65v.65h-.65zM310.9 300.2h.65v.65h-.65zM303.3 346.1h.65v.65h-.65zM298.8 311.6h.65v.65h-.65zM310.9 301.6h.65v.65h-.65zM291.8 328.7h.65v.65h-.65zM315.9 309.1h.65v.65h-.65zM305.2 335.0h.65v.65h-.65zM294.6 295.7h.65v.65h-.65zM300.0 302.8h.65v.65h-.65zM296.0 283.0h.65v.65h-.65zM302.8 278.5h.65v.65h-.65zM324.0 293.0h.65v.65h-.65zM309.9 308.0h.65v.65h-.65zM312.6 296.8h.65v.65h-.65zM316.9 315.1h.65v.65h-.65zM300.9 301.8h.65v.65h-.65zM310.1 299.3h.65v.65h-.65zM314.3 286.0h.65v.65h-.65zM299.3 313.5h.65v.65h-.65zM294.6 300.0h.65v.65h-.65zM321.8 290.4h.65v.65h-.65zM312.7 306.5h.65v.65h-.65zM299.9 295.3h.65v.65h-.65zM291.1 312.1h.65v.65h-.65zM296.0 306.1h.65v.65h-.65zM296.2 308.7h.65v.65h-.65zM310.7 296.8h.65v.65h-.65zM300.2 292.8h.65v.65h-.65zM300.7 295.8h.65v.65h-.65zM302.5 300.9h.65v.65h-.65zM298.2 288.9h.65v.65h-.65zM305.2 306.4h.65v.65h-.65zM300.6 310.8h.65v.65h-.65zM299.6 303.8h.65v.65h-.65zM299.7 304.3h.65v.65h-.65zM293.1 320.1h.65v.65h-.65zM297.5 300.6h.65v.65h-.65zM319.8 301.0h.65v.65h-.65zM318.6 321.7h.65v.65h-.65zM307.7 308.0h.65v.65h-.65zM314.9 301.3h.65v.65h-.65zM283.2 311.6h.65v.65h-.65zM303.2 288.0h.65v.65h-.65zM336.0 309.6h.65v.65h-.65zM292.9 297.1h.65v.65h-.65zM320.3 296.2h.65v.65h-.65z"/></g>
<line x1="306.5" y1="276.7" x2="306.5" y2="368.1" stroke="#333" stroke-width="1.0"/>
<line x1="274.5" y1="334.5" x2="366.35" y2="334.5" stroke="#333" stroke-width="1.0"/>
<rect x="274.5" y="276.7" width="91.85000000000002" height="91.40000000000003" fill="none" stroke="#111" stroke-width="1.1"/>
<rect x="276.2" y="279.4" width="16.3" height="7.6" fill="#fff"/>
<text x="277.0" y="286.0" font-size="8.4" textLength="14.89" lengthAdjust="spacingAndGlyphs" fill="#1a1a1a" stroke="#1a1a1a" stroke-width="0.08">1.19</text>
<rect x="348.1" y="279.4" width="16.3" height="7.6" fill="#fff"/>
<text x="363.75" y="286.0" font-size="8.4" text-anchor="end" textLength="14.89" lengthAdjust="spacingAndGlyphs" fill="#1a1a1a" stroke="#1a1a1a" stroke-width="0.08">8.67</text>
<rect x="276.2" y="358.3" width="15.7" height="7.6" fill="#fff"/>
<text x="277.0" y="364.90000000000003" font-size="8.4" textLength="14.32" lengthAdjust="spacingAndGlyphs" fill="#1a1a1a" stroke="#1a1a1a" stroke-width="0.08">11.9</text>
<rect x="348.1" y="358.3" width="16.3" height="7.6" fill="#fff"/>
<text x="363.75" y="364.90000000000003" font-size="8.4" text-anchor="end" textLength="14.89" lengthAdjust="spacingAndGlyphs" fill="#1a1a1a" stroke="#1a1a1a" stroke-width="0.08">78.3</text>
<clipPath id="c12"><rect x="381.5" y="277.3" width="90.3" height="90.20000000000003"/></clipPath><g clip-path="url(#c12)"><g fill="#000" fill-opacity="0.014" stroke="#555" stroke-width="0.4" stroke-opacity="0.85"><path d="M436.9 363.7l-6.5 0.3l-6 -0.8l-6.5 -2.3l-7.8 -5.2l-3.7 -1.8l-2 -0.3l-5 1.1l-3 -0.8l-2.1 -1.7l-1.2 -2.5l-0.3 -3l0.9 -3l1.7 -2.2l2 -1.1l2.5 -0.3l5 1l4 -1.9l1.7 -3l0.9 -6.5l1.1 -3.5l2.3 -3.3l3 -2.4l3.5 -1.6l4 -0.7l4 0.2l4 1.3l4.3 3l6 8.5l9.1 8l2.1 3.5l0.9 4l-0.2 3l-1 3l-3.8 5l-5.9 3.7l-8 2.3z"/><path d="M433.9 361.2l-6 -0.2l-6 -1.6l-4.2 -2.2l-5.8 -4.7l-5.5 -2.2l-1.5 0l-4.5 2.5l-3 -0.2l-1.5 -1l-1.2 -1.9l-0.5 -2l0.5 -2.5l1.7 -2.4l2 -0.9l2.5 0.3l4.5 2.4l5.5 -2l2 -1.7l1.5 -2.6l1.8 -9.1l2.4 -4l2.8 -2l3 -0.9l3.5 -0.1l3 0.8l4 2.8l5.4 7.4l8.6 7l2 3l0.9 3.5l-0.3 3l-0.9 2.5l-3.7 4.3l-6 3.3l-7 1.4z"/><path d="M435.4 359.8l-7 0l-6.5 -1.9l-3.6 -2.2l-4.9 -4.7l-4.3 -3.3l0.2 -1l4.1 -3.2l2.5 -3.8l1.3 -3l1 -6l1 -2.5l1.7 -2l2.5 -1.4l4.5 -0.4l4 1.7l5.6 7.1l9.2 7l2.8 4.5l0.4 2.5l-0.3 2.5l-2.5 4.5l-5.2 3.7l-6.5 1.9zM400.9 351.7l-2 0.4l-1.5 -0.4l-2.1 -2.5l-0.3 -2l0.5 -2l2.4 -2.3l2 -0.1l1.5 0.6l2.8 3.3l-0.5 2.5l-2.8 2.5z"/><path d="M435.4 358.7l-6.5 0.1l-6.5 -1.9l-4.5 -3.2l-3.8 -5.5l0.2 -2.5l4.8 -9l1.7 -7l1.6 -2l2 -1.1l3 -0.3l3.2 1.4l5.1 6l9.7 6.9l2.6 4.1l0.3 4.5l-2.5 4.5l-4.4 3.2l-6 1.8zM399.9 351.3l-2.8 -0.6l-1.4 -2.5l0.5 -3l2.2 -1.7l2.9 0.7l1.7 2.5l-0.8 3l-2.3 1.6z"/><path d="M435.9 357.8l-6 0.3l-6 -1.5l-4.5 -2.9l-3.2 -4.5l-0.3 -2.5l0.7 -2.5l4.2 -7.5l2.1 -5.9l2 -1.8l2.5 -0.3l2 0.9l4.6 4.6l9.4 6l2 2l1.4 2.5l0.4 4l-1.9 4l-3.9 3.2l-5.5 1.9zM399.4 350.7l-2 -0.6l-1.2 -2.4l0.7 -2.5l2 -1.1l2 0.6l1.4 2.5l-0.9 2.4l-2 1.1z"/><path d="M434.4 357.3l-5.5 -0.1l-5 -1.4l-4 -2.8l-2.4 -3.8l-0.2 -3l1 -3l6.6 -9.9l1.5 -1.1l2 0.3l12.5 6.9l3.3 2.8l1.7 3l0.1 4l-2.1 3.7l-4 2.8l-5.5 1.6zM399.9 349.9l-2 -0.2l-1.1 -1.5l0.2 -2l1.4 -1.4l2 0.3l1.1 1.6l-0.2 2l-1.4 1.2z"/><path d="M435.9 356.3l-5 0.4l-5 -1l-4 -2.1l-2.8 -3.4l-0.7 -3.5l1.1 -3.5l3.4 -4.5l3.5 -2.8l3.5 -0.2l7.5 2.7l4.5 2.8l2.7 3.5l0.6 3.5l-1.5 3.5l-3.3 2.9l-4.5 1.7zM399.4 349.3l-1.5 -0.5l-0.5 -1.1l0.4 -1.5l1.1 -0.7l1.5 0.7l0.4 1l-0.4 1.5l-1 0.6z"/><path d="M434.4 355.7l-4.5 0.1l-4.5 -1.2l-3.1 -1.9l-2.2 -3l-0.5 -3l0.9 -3l2.4 -3.3l3.5 -2.5l4 -0.6l5.5 1.5l5 2.8l2.5 3.1l0.6 3.5l-1.6 3.5l-3.5 2.6l-4.5 1.4zM398.9 347.6l0 -0.4l0 0.4z"/><path d="M434.9 354.7l-4 0.3l-3.5 -0.7l-3 -1.4l-2.4 -2.2l-1.1 -2.5l0.1 -2.5l1.4 -2.9l2.5 -2.5l4 -1.6l4.5 0.3l5 2l3.4 3.2l1 3.5l-1 3l-2.9 2.5l-4 1.5z"/><path d="M435.4 353.7l-3 0.4l-3.5 -0.3l-3 -1.1l-2 -1.4l-1.4 -2.1l-0.4 -2l0.6 -2.5l1.4 -2l3.3 -2.2l3.5 -0.6l5 1l3.7 2.3l1.8 3l-0.2 3l-2.3 2.9l-3.5 1.6z"/><path d="M433.4 353.2l-5.5 -0.6l-2.5 -1.4l-1.3 -1.5l-0.8 -2l0.3 -2l1.1 -2l1.7 -1.5l3 -1.1l4 0.1l3.5 1.3l2.5 2.2l0.9 2.5l-0.9 2.9l-2.5 2l-3.5 1.1z"/><path d="M433.9 352.2l-4.5 -0.1l-3.5 -1.9l-1 -1.5l-0.3 -2l1.8 -3l2.5 -1.4l3.5 -0.3l3 0.8l2.6 1.9l1 2l-0.4 2.5l-2 2l-2.7 1z"/><path d="M433.4 351.3l-3.5 -0.1l-2.8 -1.5l-1.1 -2.5l1.2 -2.5l2.2 -1.3l2.5 -0.3l2.8 0.6l2.1 1.5l0.8 1.5l-0.3 2l-1.4 1.6l-2.5 1z"/><path d="M432.4 350.2l-2.5 -0.3l-1.7 -1.2l-0.5 -2l1.2 -1.7l3.5 -0.7l2 0.6l1.3 1.3l0.3 1.5l-0.4 1l-1.3 1l-1.9 0.5z"/></g><path fill="#888" d="M428.8 296.7h.65v.65h-.65zM407.5 326.7h.65v.65h-.65zM421.1 312.5h.65v.65h-.65zM420.2 314.7h.65v.65h-.65zM432.4 303.9h.65v.65h-.65zM403.1 340.3h.65v.65h-.65zM411.9 301.3h.65v.65h-.65zM431.3 315.7h.65v.65h-.65zM392.2 300.3h.65v.65h-.65zM419.5 314.5h.65v.65h-.65zM418.5 314.3h.65v.65h-.65zM425.1 320.7h.65v.65h-.65zM444.6 330.6h.65v.65h-.65zM429.6 296.1h.65v.65h-.65zM413.0 329.3h.65v.65h-.65zM424.9 326.2h.65v.65h-.65zM442.7 317.3h.65v.65h-.65zM396.8 332.3h.65v.65h-.65zM434.5 306.5h.65v.65h-.65zM415.8 311.6h.65v.65h-.65zM422.5 325.9h.65v.65h-.65zM418.6 311.6h.65v.65h-.65zM429.3 317.4h.65v.65h-.65zM426.3 321.5h.65v.65h-.65zM401.1 321.1h.65v.65h-.65zM415.7 304.2h.65v.65h-.65zM401.2 312.0h.65v.65h-.65zM420.6 312.1h.65v.65h-.65zM433.2 318.2h.65v.65h-.65zM404.9 328.6h.65v.65h-.65zM418.1 319.2h.65v.65h-.65zM446.6 315.7h.65v.65h-.65zM428.5 312.5h.65v.65h-.65zM424.4 329.3h.65v.65h-.65zM440.0 308.3h.65v.65h-.65zM438.9 329.3h.65v.65h-.65zM414.2 307.3h.65v.65h-.65zM418.9 322.5h.65v.65h-.65zM430.3 310.8h.65v.65h-.65zM423.4 323.2h.65v.65h-.65zM445.8 323.9h.65v.65h-.65zM410.2 310.9h.65v.65h-.65zM434.1 308.0h.65v.65h-.65zM407.3 331.4h.65v.65h-.65zM427.0 296.3h.65v.65h-.65zM413.1 327.7h.65v.65h-.65zM434.6 318.5h.65v.65h-.65zM399.9 305.1h.65v.65h-.65zM416.1 307.9h.65v.65h-.65zM406.9 295.2h.65v.65h-.65zM428.1 310.6h.65v.65h-.65zM418.7 286.8h.65v.65h-.65zM422.3 322.7h.65v.65h-.65zM442.6 308.4h.65v.65h-.65zM442.3 309.1h.65v.65h-.65zM434.0 321.7h.65v.65h-.65zM404.4 319.7h.65v.65h-.65zM422.1 328.1h.65v.65h-.65zM399.7 307.1h.65v.65h-.65zM412.2 327.9h.65v.65h-.65zM444.0 321.2h.65v.65h-.65zM439.1 305.8h.65v.65h-.65zM443.2 302.6h.65v.65h-.65zM418.2 307.5h.65v.65h-.65zM458.8 319.9h.65v.65h-.65zM420.8 323.2h.65v.65h-.65zM421.6 308.2h.65v.65h-.65zM431.2 314.7h.65v.65h-.65zM419.7 333.6h.65v.65h-.65zM439.6 305.9h.65v.65h-.65zM406.0 325.8h.65v.65h-.65zM400.3 327.0h.65v.65h-.65zM421.5 323.0h.65v.65h-.65zM415.3 315.8h.65v.65h-.65zM422.6 316.8h.65v.65h-.65zM417.9 323.6h.65v.65h-.65zM435.9 313.1h.65v.65h-.65zM418.6 320.2h.65v.65h-.65zM384.7 319.0h.65v.65h-.65zM412.6 335.0h.65v.65h-.65zM434.4 328.0h.65v.65h-.65zM444.4 322.6h.65v.65h-.65zM392.0 321.6h.65v.65h-.65zM422.3 290.6h.65v.65h-.65zM415.2 320.8h.65v.65h-.65zM427.7 317.3h.65v.65h-.65zM385.3 331.0h.65v.65h-.65zM427.4 315.0h.65v.65h-.65zM455.9 315.2h.65v.65h-.65zM425.7 327.2h.65v.65h-.65zM417.0 307.9h.65v.65h-.65zM417.7 309.8h.65v.65h-.65zM412.2 313.1h.65v.65h-.65zM402.7 318.1h.65v.65h-.65zM418.8 300.6h.65v.65h-.65zM415.4 316.3h.65v.65h-.65zM410.4 312.3h.65v.65h-.65zM398.3 316.0h.65v.65h-.65zM428.5 314.4h.65v.65h-.65zM434.3 314.2h.65v.65h-.65zM429.7 326.7h.65v.65h-.65zM391.3 333.5h.65v.65h-.65zM413.2 304.1h.65v.65h-.65zM443.3 298.0h.65v.65h-.65zM414.8 324.1h.65v.65h-.65zM444.4 329.2h.65v.65h-.65zM424.5 325.1h.65v.65h-.65zM412.1 322.8h.65v.65h-.65zM437.0 310.1h.65v.65h-.65zM440.1 322.5h.65v.65h-.65zM410.9 332.3h.65v.65h-.65zM423.0 321.1h.65v.65h-.65zM415.3 323.0h.65v.65h-.65zM429.8 323.5h.65v.65h-.65zM418.3 331.1h.65v.65h-.65zM412.9 309.2h.65v.65h-.65zM451.9 341.5h.65v.65h-.65zM413.4 333.1h.65v.65h-.65zM398.5 297.2h.65v.65h-.65zM448.4 309.0h.65v.65h-.65zM402.2 318.5h.65v.65h-.65zM441.5 318.0h.65v.65h-.65zM418.2 327.8h.65v.65h-.65zM432.0 326.1h.65v.65h-.65zM427.2 307.1h.65v.65h-.65zM423.6 309.0h.65v.65h-.65zM396.0 303.4h.65v.65h-.65zM412.9 313.1h.65v.65h-.65zM450.6 302.7h.65v.65h-.65zM431.7 296.1h.65v.65h-.65zM420.2 326.8h.65v.65h-.65zM430.0 309.2h.65v.65h-.65zM425.5 337.1h.65v.65h-.65zM427.8 328.7h.65v.65h-.65zM412.4 317.8h.65v.65h-.65zM407.7 306.7h.65v.65h-.65zM421.4 295.7h.65v.65h-.65zM419.2 306.1h.65v.65h-.65zM457.4 325.8h.65v.65h-.65zM402.7 316.8h.65v.65h-.65zM434.3 315.2h.65v.65h-.65zM419.9 327.9h.65v.65h-.65zM419.5 320.3h.65v.65h-.65zM442.9 316.4h.65v.65h-.65zM421.5 297.2h.65v.65h-.65zM427.0 311.0h.65v.65h-.65zM433.6 301.2h.65v.65h-.65zM412.8 313.5h.65v.65h-.65zM452.6 323.2h.65v.65h-.65zM436.0 293.1h.65v.65h-.65zM414.0 305.0h.65v.65h-.65zM422.4 286.9h.65v.65h-.65zM421.8 306.3h.65v.65h-.65zM425.2 292.2h.65v.65h-.65zM405.3 299.4h.65v.65h-.65zM441.8 289.4h.65v.65h-.65zM410.4 290.0h.65v.65h-.65zM415.9 299.1h.65v.65h-.65zM410.8 323.5h.65v.65h-.65zM423.6 296.8h.65v.65h-.65zM423.2 307.5h.65v.65h-.65zM415.7 314.7h.65v.65h-.65zM414.2 296.8h.65v.65h-.65zM403.4 302.0h.65v.65h-.65zM426.3 319.2h.65v.65h-.65zM444.0 305.3h.65v.65h-.65zM407.1 292.7h.65v.65h-.65zM407.0 304.5h.65v.65h-.65zM415.9 315.4h.65v.65h-.65zM418.8 318.0h.65v.65h-.65zM426.1 286.2h.65v.65h-.65zM410.5 286.3h.65v.65h-.65zM415.5 314.9h.65v.65h-.65zM413.3 292.4h.65v.65h-.65zM409.3 319.0h.65v.65h-.65zM412.5 295.8h.65v.65h-.65zM425.4 301.3h.65v.65h-.65zM422.8 311.6h.65v.65h-.65zM427.2 304.1h.65v.65h-.65zM419.6 295.5h.65v.65h-.65zM407.7 299.9h.65v.65h-.65zM404.5 290.3h.65v.65h-.65zM437.7 297.6h.65v.65h-.65zM410.4 311.2h.65v.65h-.65zM408.3 296.9h.65v.65h-.65zM426.3 296.9h.65v.65h-.65zM420.5 296.9h.65v.65h-.65zM430.7 300.9h.65v.65h-.65z"/></g>
<line x1="413.5" y1="276.7" x2="413.5" y2="368.1" stroke="#333" stroke-width="1.0"/>
<line x1="380.9" y1="334.5" x2="472.4" y2="334.5" stroke="#333" stroke-width="1.0"/>
<rect x="380.9" y="276.7" width="91.5" height="91.40000000000003" fill="none" stroke="#111" stroke-width="1.1"/>
<rect x="382.6" y="279.4" width="20.5" height="7.6" fill="#fff"/>
<text x="383.4" y="286.0" font-size="8.4" textLength="19.14" lengthAdjust="spacingAndGlyphs" fill="#1a1a1a" stroke="#1a1a1a" stroke-width="0.08">0.956</text>
<rect x="454.1" y="279.4" width="16.3" height="7.6" fill="#fff"/>
<text x="469.79999999999995" y="286.0" font-size="8.4" text-anchor="end" textLength="14.89" lengthAdjust="spacingAndGlyphs" fill="#1a1a1a" stroke="#1a1a1a" stroke-width="0.08">10.7</text>
<rect x="382.6" y="358.3" width="16.3" height="7.6" fill="#fff"/>
<text x="383.4" y="364.90000000000003" font-size="8.4" textLength="14.89" lengthAdjust="spacingAndGlyphs" fill="#1a1a1a" stroke="#1a1a1a" stroke-width="0.08">10.3</text>
<rect x="454.1" y="358.3" width="16.3" height="7.6" fill="#fff"/>
<text x="469.79999999999995" y="364.90000000000003" font-size="8.4" text-anchor="end" textLength="14.89" lengthAdjust="spacingAndGlyphs" fill="#1a1a1a" stroke="#1a1a1a" stroke-width="0.08">78.1</text>
<line x1="263.5" y1="281.9" x2="263.5" y2="338.2" stroke="#111" stroke-width="1.0"/>
<path d="M260.40,283.50 L263.50,276.90 L266.60,283.50 Z" fill="#111"/>
<text transform="translate(267.1,353.7) rotate(-90)" text-anchor="middle" font-size="11" font-weight="bold" textLength="17.8" lengthAdjust="spacingAndGlyphs" fill="#151515" stroke="#151515" stroke-width="0.2">CD1a</text>
<text x="279.5" y="381.3" font-size="11" font-weight="bold" textLength="13.2" lengthAdjust="spacingAndGlyphs" fill="#151515" stroke="#151515" stroke-width="0.2">CD7</text>
<line x1="299.2" y1="377.5" x2="466.4" y2="377.5" stroke="#111" stroke-width="1.0"/>
<path d="M464.80,374.40 L471.40,377.50 L464.80,380.60 Z" fill="#111"/>
<text x="7.6" y="411.6" font-size="13.2" font-weight="bold" fill="#000" stroke="#000" stroke-width="0.2">C</text>
<line x1="52.4" y1="416.5" x2="52.4" y2="502.5" stroke="#111" stroke-width="1.3"/>
<line x1="49.4" y1="502.0" x2="52.4" y2="502.0" stroke="#111" stroke-width="1.0"/>
<text x="46.3" y="505.2" font-size="8.9" text-anchor="end" fill="#1a1a1a" stroke="#1a1a1a" stroke-width="0.12">0</text>
<line x1="49.4" y1="481.25" x2="52.4" y2="481.25" stroke="#111" stroke-width="1.0"/>
<text x="46.3" y="484.45" font-size="8.9" text-anchor="end" fill="#1a1a1a" stroke="#1a1a1a" stroke-width="0.12">10</text>
<line x1="49.4" y1="460.5" x2="52.4" y2="460.5" stroke="#111" stroke-width="1.0"/>
<text x="46.3" y="463.7" font-size="8.9" text-anchor="end" fill="#1a1a1a" stroke="#1a1a1a" stroke-width="0.12">20</text>
<line x1="49.4" y1="439.75" x2="52.4" y2="439.75" stroke="#111" stroke-width="1.0"/>
<text x="46.3" y="442.95" font-size="8.9" text-anchor="end" fill="#1a1a1a" stroke="#1a1a1a" stroke-width="0.12">30</text>
<line x1="49.4" y1="419.0" x2="52.4" y2="419.0" stroke="#111" stroke-width="1.0"/>
<text x="46.3" y="422.2" font-size="8.9" text-anchor="end" fill="#1a1a1a" stroke="#1a1a1a" stroke-width="0.12">40</text>
<line x1="52.4" y1="502.0" x2="168" y2="502.0" stroke="#111" stroke-width="1.4"/>
<rect x="68" y="453.03" width="31" height="48.970000000000006" fill="#a2002a"/>
<rect x="130.5" y="491.8325" width="31" height="10.167500000000002" fill="#2c4b7e"/>
<line x1="83.6" y1="445.3" x2="83.6" y2="453" stroke="#111" stroke-width="1.0"/>
<line x1="75.9" y1="445.3" x2="91.5" y2="445.3" stroke="#111" stroke-width="1.1"/>
<line x1="145.85" y1="490.2" x2="145.85" y2="491.8" stroke="#111" stroke-width="1.0"/>
<line x1="138.1" y1="490.2" x2="153.6" y2="490.2" stroke="#111" stroke-width="1.1"/>
<rect x="82.40" y="433.20" width="2.40" height="2.40" rx="0.72" fill="#000"/>
<rect x="82.40" y="448.40" width="2.40" height="2.40" rx="0.72" fill="#000"/>
<rect x="82.40" y="454.70" width="2.40" height="2.40" rx="0.72" fill="#000"/>
<rect x="82.40" y="469.80" width="2.40" height="2.40" rx="0.72" fill="#000"/>
<rect x="140.80" y="489.40" width="2.40" height="2.40" rx="0.72" fill="#000"/>
<rect x="144.60" y="490.20" width="2.40" height="2.40" rx="0.72" fill="#000"/>
<rect x="148.30" y="487.50" width="2.40" height="2.40" rx="0.72" fill="#000"/>
<rect x="144.60" y="494.40" width="2.40" height="2.40" rx="0.72" fill="#000"/>
<line x1="83" y1="424.5" x2="148.5" y2="424.5" stroke="#333" stroke-width="1.0"/>
<circle cx="114.2" cy="420.2" r="1.05" fill="#111"/>
<circle cx="117.3" cy="420.2" r="1.05" fill="#111"/>
<text x="83.8" y="513.3" font-size="8.3" text-anchor="middle" fill="#1a1a1a">Naive</text>
<text x="145.2" y="513.3" font-size="8.3" text-anchor="middle" fill="#1a1a1a">SR1</text>
<text transform="translate(29.00,483.90) rotate(-90)" font-size="10.2" textLength="5.9" lengthAdjust="spacingAndGlyphs" fill="#1a1a1a" stroke="#1a1a1a" stroke-width="0.42">%</text>
<text transform="translate(29.00,474.70) rotate(-90)" font-size="10.2" textLength="14.9" lengthAdjust="spacingAndGlyphs" fill="#1a1a1a" stroke="#1a1a1a" stroke-width="0.42">CD34</text>
<text transform="translate(25.10,457.90) rotate(-90)" font-size="6.2" textLength="3.0" lengthAdjust="spacingAndGlyphs" fill="#1a1a1a" stroke="#1a1a1a" stroke-width="0.15">+</text>
<text transform="translate(29.00,454.80) rotate(-90)" font-size="10.2" textLength="11.2" lengthAdjust="spacingAndGlyphs" fill="#1a1a1a" stroke="#1a1a1a" stroke-width="0.42">CD7</text>
<text transform="translate(25.10,439.80) rotate(-90)" font-size="6.2" textLength="3.0" lengthAdjust="spacingAndGlyphs" fill="#1a1a1a" stroke="#1a1a1a" stroke-width="0.15">+</text>
<line x1="217.4" y1="416.5" x2="217.4" y2="502.1" stroke="#111" stroke-width="1.3"/>
<line x1="214.4" y1="501.6" x2="217.4" y2="501.6" stroke="#111" stroke-width="1.0"/>
<text x="211.3" y="504.8" font-size="8.9" text-anchor="end" fill="#1a1a1a" stroke="#1a1a1a" stroke-width="0.12">0</text>
<line x1="214.4" y1="485.08000000000004" x2="217.4" y2="485.08000000000004" stroke="#111" stroke-width="1.0"/>
<text x="211.3" y="488.28000000000003" font-size="8.9" text-anchor="end" fill="#1a1a1a" stroke="#1a1a1a" stroke-width="0.12">20</text>
<line x1="214.4" y1="468.56" x2="217.4" y2="468.56" stroke="#111" stroke-width="1.0"/>
<text x="211.3" y="471.76" font-size="8.9" text-anchor="end" fill="#1a1a1a" stroke="#1a1a1a" stroke-width="0.12">40</text>
<line x1="214.4" y1="452.04" x2="217.4" y2="452.04" stroke="#111" stroke-width="1.0"/>
<text x="211.3" y="455.24" font-size="8.9" text-anchor="end" fill="#1a1a1a" stroke="#1a1a1a" stroke-width="0.12">60</text>
<line x1="214.4" y1="435.52000000000004" x2="217.4" y2="435.52000000000004" stroke="#111" stroke-width="1.0"/>
<text x="211.3" y="438.72" font-size="8.9" text-anchor="end" fill="#1a1a1a" stroke="#1a1a1a" stroke-width="0.12">80</text>
<line x1="214.4" y1="419.0" x2="217.4" y2="419.0" stroke="#111" stroke-width="1.0"/>
<text x="211.3" y="422.2" font-size="8.9" text-anchor="end" fill="#1a1a1a" stroke="#1a1a1a" stroke-width="0.12">100</text>
<line x1="217.4" y1="501.6" x2="342" y2="501.6" stroke="#111" stroke-width="1.4"/>
<rect x="233.3" y="465.25600000000003" width="31.2" height="36.344" fill="#a2002a"/>
<rect x="296" y="439.1544" width="30.9" height="62.44559999999999" fill="#2c4b7e"/>
<line x1="248.8" y1="455.3" x2="248.8" y2="465.3" stroke="#111" stroke-width="1.0"/>
<line x1="241.2" y1="455.3" x2="256.5" y2="455.3" stroke="#111" stroke-width="1.1"/>
<line x1="311.2" y1="434.3" x2="311.2" y2="439.3" stroke="#111" stroke-width="1.0"/>
<line x1="303.1" y1="434.3" x2="319" y2="434.3" stroke="#111" stroke-width="1.1"/>
<rect x="247.70" y="445.00" width="2.40" height="2.40" rx="0.72" fill="#000"/>
<rect x="247.70" y="449.60" width="2.40" height="2.40" rx="0.72" fill="#000"/>
<rect x="247.70" y="477.60" width="2.40" height="2.40" rx="0.72" fill="#000"/>
<rect x="247.70" y="482.60" width="2.40" height="2.40" rx="0.72" fill="#000"/>
<rect x="311.80" y="429.60" width="2.40" height="2.40" rx="0.72" fill="#000"/>
<rect x="308.10" y="432.70" width="2.40" height="2.40" rx="0.72" fill="#000"/>
<rect x="310.00" y="438.10" width="2.40" height="2.40" rx="0.72" fill="#000"/>
<rect x="309.90" y="450.90" width="2.40" height="2.40" rx="0.72" fill="#000"/>
<text x="249" y="514.0" font-size="8.2" text-anchor="middle" fill="#1a1a1a">Naive</text>
<text x="311" y="514.0" font-size="8.2" text-anchor="middle" fill="#1a1a1a">SR1</text>
<text transform="translate(189.40,483.50) rotate(-90)" font-size="10.2" textLength="6.2" lengthAdjust="spacingAndGlyphs" fill="#1a1a1a" stroke="#1a1a1a" stroke-width="0.42">%</text>
<text transform="translate(189.40,473.50) rotate(-90)" font-size="10.2" textLength="14.1" lengthAdjust="spacingAndGlyphs" fill="#1a1a1a" stroke="#1a1a1a" stroke-width="0.42">CD34</text>
<text transform="translate(185.50,457.30) rotate(-90)" font-size="6.2" textLength="2.0" lengthAdjust="spacingAndGlyphs" fill="#1a1a1a" stroke="#1a1a1a" stroke-width="0.15">-</text>
<text transform="translate(189.40,455.70) rotate(-90)" font-size="10.2" textLength="11.3" lengthAdjust="spacingAndGlyphs" fill="#1a1a1a" stroke="#1a1a1a" stroke-width="0.42">CD7</text>
<text transform="translate(185.50,441.30) rotate(-90)" font-size="6.2" textLength="3.0" lengthAdjust="spacingAndGlyphs" fill="#1a1a1a" stroke="#1a1a1a" stroke-width="0.15">+</text>
<line x1="387.6" y1="416.3" x2="387.6" y2="502.5" stroke="#111" stroke-width="1.3"/>
<line x1="384.6" y1="502.0" x2="387.6" y2="502.0" stroke="#111" stroke-width="1.0"/>
<text x="381.5" y="505.2" font-size="8.9" text-anchor="end" fill="#1a1a1a" stroke="#1a1a1a" stroke-width="0.12">0</text>
<line x1="384.6" y1="481.3" x2="387.6" y2="481.3" stroke="#111" stroke-width="1.0"/>
<text x="381.5" y="484.5" font-size="8.9" text-anchor="end" fill="#1a1a1a" stroke="#1a1a1a" stroke-width="0.12">20</text>
<line x1="384.6" y1="460.6" x2="387.6" y2="460.6" stroke="#111" stroke-width="1.0"/>
<text x="381.5" y="463.8" font-size="8.9" text-anchor="end" fill="#1a1a1a" stroke="#1a1a1a" stroke-width="0.12">40</text>
<line x1="384.6" y1="439.9" x2="387.6" y2="439.9" stroke="#111" stroke-width="1.0"/>
<text x="381.5" y="443.09999999999997" font-size="8.9" text-anchor="end" fill="#1a1a1a" stroke="#1a1a1a" stroke-width="0.12">60</text>
<line x1="384.6" y1="419.2" x2="387.6" y2="419.2" stroke="#111" stroke-width="1.0"/>
<text x="381.5" y="422.4" font-size="8.9" text-anchor="end" fill="#1a1a1a" stroke="#1a1a1a" stroke-width="0.12">80</text>
<line x1="387.6" y1="502.0" x2="512.4" y2="502.0" stroke="#111" stroke-width="1.4"/>
<rect x="403.7" y="460.6" width="30.9" height="41.4" fill="#a2002a"/>
<rect x="466.2" y="436.174" width="30.3" height="65.826" fill="#2c4b7e"/>
<line x1="419.2" y1="452.7" x2="419.2" y2="460.4" stroke="#111" stroke-width="1.0"/>
<line x1="411.5" y1="452.7" x2="426.8" y2="452.7" stroke="#111" stroke-width="1.1"/>
<line x1="481.2" y1="429.5" x2="481.2" y2="436.2" stroke="#111" stroke-width="1.0"/>
<line x1="473.4" y1="429.5" x2="488.9" y2="429.5" stroke="#111" stroke-width="1.1"/>
<rect x="417.90" y="440.70" width="2.40" height="2.40" rx="0.72" fill="#000"/>
<rect x="417.90" y="456.90" width="2.40" height="2.40" rx="0.72" fill="#000"/>
<rect x="417.90" y="461.60" width="2.40" height="2.40" rx="0.72" fill="#000"/>
<rect x="417.90" y="477.60" width="2.40" height="2.40" rx="0.72" fill="#000"/>
<rect x="478.00" y="423.90" width="2.40" height="2.40" rx="0.72" fill="#000"/>
<rect x="481.40" y="423.20" width="2.40" height="2.40" rx="0.72" fill="#000"/>
<rect x="480.00" y="437.70" width="2.40" height="2.40" rx="0.72" fill="#000"/>
<rect x="480.00" y="452.30" width="2.40" height="2.40" rx="0.72" fill="#000"/>
<text x="419" y="514.0" font-size="8.2" text-anchor="middle" fill="#1a1a1a">Naive</text>
<text x="481" y="514.0" font-size="8.2" text-anchor="middle" fill="#1a1a1a">SR1</text>
<text transform="translate(364.80,481.80) rotate(-90)" font-size="10.2" textLength="5.8" lengthAdjust="spacingAndGlyphs" fill="#1a1a1a" stroke="#1a1a1a" stroke-width="0.42">%</text>
<text transform="translate(364.80,473.50) rotate(-90)" font-size="10.2" textLength="11.6" lengthAdjust="spacingAndGlyphs" fill="#1a1a1a" stroke="#1a1a1a" stroke-width="0.42">CD7</text>
<text transform="translate(360.90,460.00) rotate(-90)" font-size="6.2" textLength="3.0" lengthAdjust="spacingAndGlyphs" fill="#1a1a1a" stroke="#1a1a1a" stroke-width="0.15">+</text>
<text transform="translate(364.80,456.00) rotate(-90)" font-size="10.2" textLength="12.0" lengthAdjust="spacingAndGlyphs" fill="#1a1a1a" stroke="#1a1a1a" stroke-width="0.42">CD5</text>
<text transform="translate(360.90,441.70) rotate(-90)" font-size="6.2" textLength="3.0" lengthAdjust="spacingAndGlyphs" fill="#1a1a1a" stroke="#1a1a1a" stroke-width="0.15">+</text>
<text x="7.9" y="542.9" font-size="13.2" font-weight="bold" fill="#000" stroke="#000" stroke-width="0.2">D</text>
<line x1="52.2" y1="558.4" x2="52.2" y2="650.0" stroke="#111" stroke-width="1.3"/>
<line x1="49.2" y1="649.5" x2="52.2" y2="649.5" stroke="#111" stroke-width="1.0"/>
<text x="46.1" y="652.7" font-size="8.9" text-anchor="end" fill="#1a1a1a" stroke="#1a1a1a" stroke-width="0.12">0</text>
<line x1="49.2" y1="620.0" x2="52.2" y2="620.0" stroke="#111" stroke-width="1.0"/>
<text x="46.1" y="623.2" font-size="8.9" text-anchor="end" fill="#1a1a1a" stroke="#1a1a1a" stroke-width="0.12">5</text>
<line x1="49.2" y1="590.5" x2="52.2" y2="590.5" stroke="#111" stroke-width="1.0"/>
<text x="46.1" y="593.7" font-size="8.9" text-anchor="end" fill="#1a1a1a" stroke="#1a1a1a" stroke-width="0.12">10</text>
<line x1="49.2" y1="561.0" x2="52.2" y2="561.0" stroke="#111" stroke-width="1.0"/>
<text x="46.1" y="564.2" font-size="8.9" text-anchor="end" fill="#1a1a1a" stroke="#1a1a1a" stroke-width="0.12">15</text>
<line x1="52.2" y1="649.5" x2="184.8" y2="649.5" stroke="#111" stroke-width="1.4"/>
<polyline points="74.4,649.5 118.7,627.7 163.0,628.3" fill="none" stroke="#2c4b7e" stroke-width="1.2"/>
<polyline points="74.4,649.5 118.7,629.4 163.0,589.3" fill="none" stroke="#a2002a" stroke-width="1.2"/>
<line x1="118.7" y1="626.2" x2="118.7" y2="632.8" stroke="#a2002a" stroke-width="1.0"/>
<line x1="117.10000000000001" y1="626.2" x2="120.3" y2="626.2" stroke="#a2002a" stroke-width="1.0"/>
<line x1="117.10000000000001" y1="632.8" x2="120.3" y2="632.8" stroke="#a2002a" stroke-width="1.0"/>
<line x1="163.0" y1="583.5" x2="163.0" y2="595.5" stroke="#a2002a" stroke-width="1.0"/>
<line x1="161.4" y1="583.5" x2="164.6" y2="583.5" stroke="#a2002a" stroke-width="1.0"/>
<line x1="161.4" y1="595.5" x2="164.6" y2="595.5" stroke="#a2002a" stroke-width="1.0"/>
<rect x="117.2" y="626.17" width="3" height="3" fill="#2c4b7e"/>
<rect x="161.5" y="626.76" width="3" height="3" fill="#2c4b7e"/>
<rect x="72.9" y="648.0" width="3" height="3" fill="#a2002a"/>
<rect x="117.2" y="627.94" width="3" height="3" fill="#a2002a"/>
<rect x="161.5" y="587.82" width="3" height="3" fill="#a2002a"/>
<text x="74.45" y="660.9" font-size="8.5" text-anchor="middle" textLength="11.3" lengthAdjust="spacingAndGlyphs" fill="#1a1a1a" stroke="#1a1a1a" stroke-width="0.1">D0</text>
<text x="118.6" y="660.9" font-size="8.5" text-anchor="middle" textLength="10.8" lengthAdjust="spacingAndGlyphs" fill="#1a1a1a" stroke="#1a1a1a" stroke-width="0.1">D7</text>
<text x="163.0" y="660.9" font-size="8.5" text-anchor="middle" textLength="15.2" lengthAdjust="spacingAndGlyphs" fill="#1a1a1a" stroke="#1a1a1a" stroke-width="0.1">D14</text>
<text transform="translate(28.4,605.8) rotate(-90)" text-anchor="middle" font-size="9.4" textLength="58.0" lengthAdjust="spacingAndGlyphs" fill="#1a1a1a" stroke="#1a1a1a" stroke-width="0.3">Fold change (/D0)</text>
<line x1="188.1" y1="562.1" x2="198.2" y2="562.1" stroke="#a2002a" stroke-width="1.2"/>
<rect x="191.8" y="560.6" width="3" height="3" fill="#a2002a"/>
<line x1="188.1" y1="574.6" x2="198.2" y2="574.6" stroke="#2c4b7e" stroke-width="1.2"/>
<rect x="191.8" y="573.1" width="3" height="3" fill="#2c4b7e"/>
<text x="201.9" y="565.0" font-size="8.2" textLength="18.7" lengthAdjust="spacingAndGlyphs" fill="#1a1a1a">Naive</text>
<text x="201.9" y="577.5" font-size="8.2" textLength="14.1" lengthAdjust="spacingAndGlyphs" fill="#1a1a1a">SR1</text>
<text x="238.2" y="542.8" font-size="13.2" font-weight="bold" fill="#000" stroke="#000" stroke-width="0.2">E</text>
<line x1="288.7" y1="560.7" x2="288.7" y2="603.1" stroke="#111" stroke-width="1.3"/>
<line x1="287.4" y1="603.1" x2="290.0" y2="603.1" stroke="#111" stroke-width="1.0"/>
<line x1="286.09999999999997" y1="563.5" x2="288.7" y2="563.5" stroke="#111" stroke-width="1.0"/>
<text x="283.9" y="566.4" font-size="8.2" text-anchor="end" fill="#1a1a1a">3.0</text>
<line x1="286.09999999999997" y1="575.0" x2="288.7" y2="575.0" stroke="#111" stroke-width="1.0"/>
<text x="283.9" y="577.9" font-size="8.2" text-anchor="end" fill="#1a1a1a">2.5</text>
<line x1="286.09999999999997" y1="586.2" x2="288.7" y2="586.2" stroke="#111" stroke-width="1.0"/>
<text x="283.9" y="589.1" font-size="8.2" text-anchor="end" fill="#1a1a1a">2.0</text>
<line x1="286.09999999999997" y1="597.3" x2="288.7" y2="597.3" stroke="#111" stroke-width="1.0"/>
<text x="283.9" y="600.1999999999999" font-size="8.2" text-anchor="end" fill="#1a1a1a">1.5</text>
<line x1="288.7" y1="610.0" x2="288.7" y2="649.3" stroke="#111" stroke-width="1.3"/>
<line x1="287.4" y1="610.0" x2="290.0" y2="610.0" stroke="#111" stroke-width="1.0"/>
<line x1="286.09999999999997" y1="618.2" x2="288.7" y2="618.2" stroke="#111" stroke-width="1.0"/>
<text x="283.9" y="621.1" font-size="8.2" text-anchor="end" fill="#1a1a1a">0.04</text>
<line x1="286.09999999999997" y1="633.8" x2="288.7" y2="633.8" stroke="#111" stroke-width="1.0"/>
<text x="283.9" y="636.6999999999999" font-size="8.2" text-anchor="end" fill="#1a1a1a">0.02</text>
<line x1="286.09999999999997" y1="649.2" x2="288.7" y2="649.2" stroke="#111" stroke-width="1.0"/>
<text x="283.9" y="652.1" font-size="8.2" text-anchor="end" fill="#1a1a1a">0.00</text>
<line x1="288.7" y1="649.3" x2="417.5" y2="649.3" stroke="#111" stroke-width="1.4"/>
<rect x="299.5" y="641.8" width="43" height="7.5" fill="#a2002a"/>
<rect x="364.3" y="588.0" width="42.7" height="15.0" fill="#2c4b7e"/>
<rect x="364.3" y="610.5" width="42.7" height="38.8" fill="#2c4b7e"/>
<line x1="314" y1="641.2" x2="329" y2="641.2" stroke="#111" stroke-width="0.9"/>
<rect x="315.00" y="640.60" width="2.00" height="2.00" rx="0.60" fill="#000"/>
<rect x="319.00" y="640.60" width="2.00" height="2.00" rx="0.60" fill="#000"/>
<rect x="323.00" y="640.60" width="2.00" height="2.00" rx="0.60" fill="#000"/>
<rect x="326.50" y="640.60" width="2.00" height="2.00" rx="0.60" fill="#000"/>
<line x1="385.5" y1="580.8" x2="385.5" y2="588" stroke="#111" stroke-width="1.0"/>
<line x1="374.5" y1="580.8" x2="396.5" y2="580.8" stroke="#111" stroke-width="1.1"/>
<rect x="384.10" y="566.30" width="2.40" height="2.40" rx="0.72" fill="#000"/>
<rect x="384.50" y="586.80" width="2.40" height="2.40" rx="0.72" fill="#000"/>
<rect x="382.30" y="597.80" width="2.40" height="2.40" rx="0.72" fill="#000"/>
<rect x="386.30" y="595.80" width="2.40" height="2.40" rx="0.72" fill="#000"/>
<line x1="319.5" y1="559.0" x2="384.5" y2="559.0" stroke="#666" stroke-width="1.3"/>
<circle cx="350.2" cy="554.6" r="1.05" fill="#111"/>
<circle cx="353.5" cy="554.6" r="1.05" fill="#111"/>
<text x="321" y="660.6" font-size="8.2" text-anchor="middle" fill="#1a1a1a">Naive</text>
<text x="385" y="660.6" font-size="8.2" text-anchor="middle" fill="#1a1a1a">SR1</text>
<text transform="translate(259.0,666.4) rotate(-90)" text-anchor="start" font-size="9.2" textLength="123" lengthAdjust="spacingAndGlyphs" fill="#1a1a1a" stroke="#1a1a1a" stroke-width="0.3">Fold change expansion/CD34<tspan dy="-2.5" font-size="5.5">+</tspan><tspan dy="2.5"> (&#215; 10</tspan><tspan dy="-2.5" font-size="5.5">3</tspan><tspan dy="2.5">)</tspan></text>
<rect x="0.5" y="0.5" width="519" height="674" fill="none" stroke="#000" stroke-width="1.2"/>
</svg>
</body></html>
